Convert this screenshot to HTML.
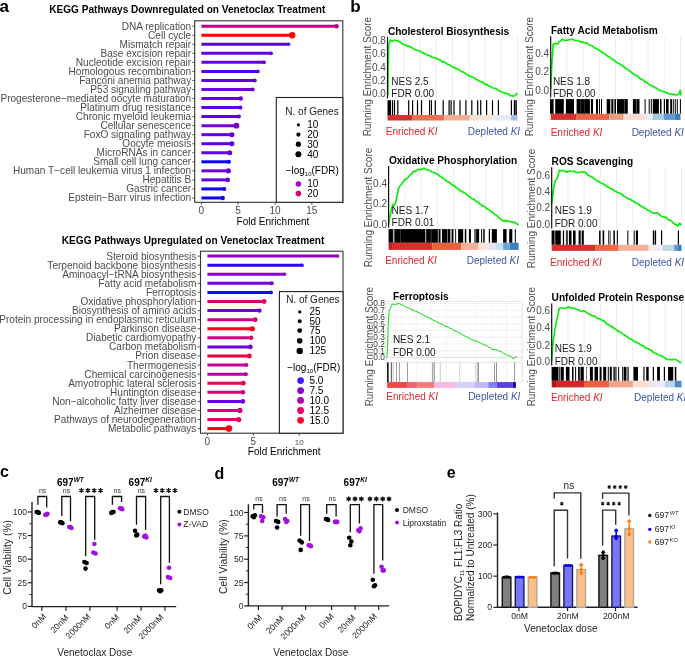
<!DOCTYPE html>
<html><head><meta charset="utf-8"><style>
html,body{margin:0;padding:0;background:#fff;width:685px;height:657px;overflow:hidden}
svg{display:block;will-change:transform}
text{font-family:"Liberation Sans",sans-serif}
</style></head><body>
<svg width="685" height="657" viewBox="0 0 685 657">
<rect x="0" y="0" width="685" height="657" fill="#fff"/>
<text x="-0.50" y="12.00" font-size="17" text-anchor="start" font-weight="bold" font-style="normal" fill="#000">a</text>
<text x="325.40" y="12.60" font-size="10.08" text-anchor="end" font-weight="bold" font-style="normal" fill="#000">KEGG Pathways Downregulated on Venetoclax Treatment</text>
<text x="191.20" y="29.64" font-size="10.08" text-anchor="end" font-weight="normal" font-style="normal" fill="#4d4d4d">DNA replication</text>
<line x1="192.20" y1="26.20" x2="194.70" y2="26.20" stroke="#333" stroke-width="0.8"/>
<line x1="201.40" y1="26.20" x2="336.50" y2="26.20" stroke="#c0008a" stroke-width="3"/>
<circle cx="336.50" cy="26.20" r="2.30" fill="#c0008a"/>
<text x="191.20" y="38.68" font-size="10.08" text-anchor="end" font-weight="normal" font-style="normal" fill="#4d4d4d">Cell cycle</text>
<line x1="192.20" y1="35.24" x2="194.70" y2="35.24" stroke="#333" stroke-width="0.8"/>
<line x1="201.40" y1="35.24" x2="292.20" y2="35.24" stroke="#ff0000" stroke-width="3"/>
<circle cx="292.20" cy="35.24" r="3.20" fill="#ff0000"/>
<text x="191.20" y="47.72" font-size="10.08" text-anchor="end" font-weight="normal" font-style="normal" fill="#4d4d4d">Mismatch repair</text>
<line x1="192.20" y1="44.28" x2="194.70" y2="44.28" stroke="#333" stroke-width="0.8"/>
<line x1="201.40" y1="44.28" x2="288.60" y2="44.28" stroke="#5a00f0" stroke-width="3"/>
<circle cx="288.60" cy="44.28" r="1.70" fill="#5a00f0"/>
<text x="191.20" y="56.76" font-size="10.08" text-anchor="end" font-weight="normal" font-style="normal" fill="#4d4d4d">Base excision repair</text>
<line x1="192.20" y1="53.32" x2="194.70" y2="53.32" stroke="#333" stroke-width="0.8"/>
<line x1="201.40" y1="53.32" x2="271.10" y2="53.32" stroke="#6000ec" stroke-width="3"/>
<circle cx="271.10" cy="53.32" r="1.90" fill="#6000ec"/>
<text x="191.20" y="65.80" font-size="10.08" text-anchor="end" font-weight="normal" font-style="normal" fill="#4d4d4d">Nucleotide excision repair</text>
<line x1="192.20" y1="62.36" x2="194.70" y2="62.36" stroke="#333" stroke-width="0.8"/>
<line x1="201.40" y1="62.36" x2="264.10" y2="62.36" stroke="#6800e4" stroke-width="3"/>
<circle cx="264.10" cy="62.36" r="1.90" fill="#6800e4"/>
<text x="191.20" y="74.84" font-size="10.08" text-anchor="end" font-weight="normal" font-style="normal" fill="#4d4d4d">Homologous recombination</text>
<line x1="192.20" y1="71.40" x2="194.70" y2="71.40" stroke="#333" stroke-width="0.8"/>
<line x1="201.40" y1="71.40" x2="257.80" y2="71.40" stroke="#5200f0" stroke-width="3"/>
<circle cx="257.80" cy="71.40" r="1.90" fill="#5200f0"/>
<text x="191.20" y="83.88" font-size="10.08" text-anchor="end" font-weight="normal" font-style="normal" fill="#4d4d4d">Fanconi anemia pathway</text>
<line x1="192.20" y1="80.44" x2="194.70" y2="80.44" stroke="#333" stroke-width="0.8"/>
<line x1="201.40" y1="80.44" x2="254.70" y2="80.44" stroke="#6000e8" stroke-width="3"/>
<circle cx="254.70" cy="80.44" r="2.00" fill="#6000e8"/>
<text x="191.20" y="92.92" font-size="10.08" text-anchor="end" font-weight="normal" font-style="normal" fill="#4d4d4d">P53 signaling pathway</text>
<line x1="192.20" y1="89.48" x2="194.70" y2="89.48" stroke="#333" stroke-width="0.8"/>
<line x1="201.40" y1="89.48" x2="252.60" y2="89.48" stroke="#6c00e0" stroke-width="3"/>
<circle cx="252.60" cy="89.48" r="2.00" fill="#6c00e0"/>
<text x="191.20" y="101.96" font-size="10.08" text-anchor="end" font-weight="normal" font-style="normal" fill="#4d4d4d">Progesterone−mediated oocyte maturation</text>
<line x1="192.20" y1="98.52" x2="194.70" y2="98.52" stroke="#333" stroke-width="0.8"/>
<line x1="201.40" y1="98.52" x2="240.80" y2="98.52" stroke="#6a00e0" stroke-width="3"/>
<circle cx="240.80" cy="98.52" r="2.20" fill="#6a00e0"/>
<text x="191.20" y="111.00" font-size="10.08" text-anchor="end" font-weight="normal" font-style="normal" fill="#4d4d4d">Platinum drug resistance</text>
<line x1="192.20" y1="107.56" x2="194.70" y2="107.56" stroke="#333" stroke-width="0.8"/>
<line x1="201.40" y1="107.56" x2="240.30" y2="107.56" stroke="#5a00ec" stroke-width="3"/>
<circle cx="240.30" cy="107.56" r="2.10" fill="#5a00ec"/>
<text x="191.20" y="120.04" font-size="10.08" text-anchor="end" font-weight="normal" font-style="normal" fill="#4d4d4d">Chronic myeloid leukemia</text>
<line x1="192.20" y1="116.60" x2="194.70" y2="116.60" stroke="#333" stroke-width="0.8"/>
<line x1="201.40" y1="116.60" x2="238.90" y2="116.60" stroke="#5a00ec" stroke-width="3"/>
<circle cx="238.90" cy="116.60" r="2.00" fill="#5a00ec"/>
<text x="191.20" y="129.08" font-size="10.08" text-anchor="end" font-weight="normal" font-style="normal" fill="#4d4d4d">Cellular senescence</text>
<line x1="192.20" y1="125.64" x2="194.70" y2="125.64" stroke="#333" stroke-width="0.8"/>
<line x1="201.40" y1="125.64" x2="236.40" y2="125.64" stroke="#7800d8" stroke-width="3"/>
<circle cx="236.40" cy="125.64" r="2.90" fill="#7800d8"/>
<text x="191.20" y="138.12" font-size="10.08" text-anchor="end" font-weight="normal" font-style="normal" fill="#4d4d4d">FoxO signaling pathway</text>
<line x1="192.20" y1="134.68" x2="194.70" y2="134.68" stroke="#333" stroke-width="0.8"/>
<line x1="201.40" y1="134.68" x2="231.90" y2="134.68" stroke="#6000e8" stroke-width="3"/>
<circle cx="231.90" cy="134.68" r="2.50" fill="#6000e8"/>
<text x="191.20" y="147.16" font-size="10.08" text-anchor="end" font-weight="normal" font-style="normal" fill="#4d4d4d">Oocyte meiosis</text>
<line x1="192.20" y1="143.72" x2="194.70" y2="143.72" stroke="#333" stroke-width="0.8"/>
<line x1="201.40" y1="143.72" x2="231.90" y2="143.72" stroke="#5c00ec" stroke-width="3"/>
<circle cx="231.90" cy="143.72" r="2.50" fill="#5c00ec"/>
<text x="191.20" y="156.20" font-size="10.08" text-anchor="end" font-weight="normal" font-style="normal" fill="#4d4d4d">MicroRNAs in cancer</text>
<line x1="192.20" y1="152.76" x2="194.70" y2="152.76" stroke="#333" stroke-width="0.8"/>
<line x1="201.40" y1="152.76" x2="229.70" y2="152.76" stroke="#6400e4" stroke-width="3"/>
<circle cx="229.70" cy="152.76" r="2.50" fill="#6400e4"/>
<text x="191.20" y="165.24" font-size="10.08" text-anchor="end" font-weight="normal" font-style="normal" fill="#4d4d4d">Small cell lung cancer</text>
<line x1="192.20" y1="161.80" x2="194.70" y2="161.80" stroke="#333" stroke-width="0.8"/>
<line x1="201.40" y1="161.80" x2="228.90" y2="161.80" stroke="#0a00ff" stroke-width="3"/>
<circle cx="228.90" cy="161.80" r="2.10" fill="#0a00ff"/>
<text x="191.20" y="174.28" font-size="10.08" text-anchor="end" font-weight="normal" font-style="normal" fill="#4d4d4d">Human T−cell leukemia virus 1 infection</text>
<line x1="192.20" y1="170.84" x2="194.70" y2="170.84" stroke="#333" stroke-width="0.8"/>
<line x1="201.40" y1="170.84" x2="228.40" y2="170.84" stroke="#7000dc" stroke-width="3"/>
<circle cx="228.40" cy="170.84" r="2.60" fill="#7000dc"/>
<text x="191.20" y="183.32" font-size="10.08" text-anchor="end" font-weight="normal" font-style="normal" fill="#4d4d4d">Hepatitis B</text>
<line x1="192.20" y1="179.88" x2="194.70" y2="179.88" stroke="#333" stroke-width="0.8"/>
<line x1="201.40" y1="179.88" x2="227.70" y2="179.88" stroke="#6000e8" stroke-width="3"/>
<circle cx="227.70" cy="179.88" r="2.30" fill="#6000e8"/>
<text x="191.20" y="192.36" font-size="10.08" text-anchor="end" font-weight="normal" font-style="normal" fill="#4d4d4d">Gastric cancer</text>
<line x1="192.20" y1="188.92" x2="194.70" y2="188.92" stroke="#333" stroke-width="0.8"/>
<line x1="201.40" y1="188.92" x2="224.30" y2="188.92" stroke="#1000fc" stroke-width="3"/>
<circle cx="224.30" cy="188.92" r="2.00" fill="#1000fc"/>
<text x="191.20" y="201.40" font-size="10.08" text-anchor="end" font-weight="normal" font-style="normal" fill="#4d4d4d">Epstein−Barr virus infection</text>
<line x1="192.20" y1="197.96" x2="194.70" y2="197.96" stroke="#333" stroke-width="0.8"/>
<line x1="201.40" y1="197.96" x2="222.70" y2="197.96" stroke="#1000fc" stroke-width="3"/>
<circle cx="222.70" cy="197.96" r="2.20" fill="#1000fc"/>
<rect x="194.70" y="20.80" width="148.10" height="181.50" fill="none" stroke="#333" stroke-width="1.1"/>
<line x1="201.40" y1="202.30" x2="201.40" y2="204.80" stroke="#333" stroke-width="0.8"/>
<text x="201.40" y="213.70" font-size="10" text-anchor="middle" font-weight="normal" font-style="normal" fill="#4d4d4d">0</text>
<line x1="238.00" y1="202.30" x2="238.00" y2="204.80" stroke="#333" stroke-width="0.8"/>
<text x="238.00" y="213.70" font-size="10" text-anchor="middle" font-weight="normal" font-style="normal" fill="#4d4d4d">5</text>
<line x1="275.00" y1="202.30" x2="275.00" y2="204.80" stroke="#333" stroke-width="0.8"/>
<text x="275.00" y="213.70" font-size="10" text-anchor="middle" font-weight="normal" font-style="normal" fill="#4d4d4d">10</text>
<line x1="311.80" y1="202.30" x2="311.80" y2="204.80" stroke="#333" stroke-width="0.8"/>
<text x="311.80" y="213.70" font-size="10" text-anchor="middle" font-weight="normal" font-style="normal" fill="#4d4d4d">15</text>
<text x="273.00" y="225.20" font-size="10" text-anchor="middle" font-weight="normal" font-style="normal" fill="#000">Fold Enrichment</text>
<rect x="276.30" y="97.50" width="66.50" height="104.80" fill="white" stroke="#222" stroke-width="1.1"/>
<text x="312.00" y="115.00" font-size="10" text-anchor="middle" font-weight="normal" font-style="normal" fill="#1a1a1a">N. of Genes</text>
<circle cx="298.40" cy="124.80" r="1.60" fill="#000"/>
<text x="307.30" y="128.24" font-size="10" text-anchor="start" font-weight="normal" font-style="normal" fill="#000">10</text>
<circle cx="298.40" cy="134.60" r="2.10" fill="#000"/>
<text x="307.30" y="138.04" font-size="10" text-anchor="start" font-weight="normal" font-style="normal" fill="#000">20</text>
<circle cx="298.40" cy="144.20" r="2.60" fill="#000"/>
<text x="307.30" y="147.64" font-size="10" text-anchor="start" font-weight="normal" font-style="normal" fill="#000">30</text>
<circle cx="298.40" cy="154.20" r="3.00" fill="#000"/>
<text x="307.30" y="157.64" font-size="10" text-anchor="start" font-weight="normal" font-style="normal" fill="#000">40</text>
<text x="312.20" y="174.00" font-size="10" text-anchor="middle" font-weight="normal" font-style="normal" fill="#000">−log<tspan font-size="6" dy="2">10</tspan><tspan dy="-2">(FDR)</tspan></text>
<circle cx="298.40" cy="184.00" r="2.80" fill="#a000d0"/>
<text x="307.30" y="187.40" font-size="10" text-anchor="start" font-weight="normal" font-style="normal" fill="#000">10</text>
<circle cx="298.40" cy="193.60" r="2.80" fill="#e0006f"/>
<text x="307.30" y="197.00" font-size="10" text-anchor="start" font-weight="normal" font-style="normal" fill="#000">20</text>
<text x="324.30" y="244.20" font-size="10.1" text-anchor="end" font-weight="bold" font-style="normal" fill="#000">KEGG Pathways Upregulated on Venetoclax Treatment</text>
<text x="196.40" y="259.54" font-size="10.08" text-anchor="end" font-weight="normal" font-style="normal" fill="#4d4d4d">Steroid biosynthesis</text>
<line x1="197.60" y1="256.10" x2="200.50" y2="256.10" stroke="#333" stroke-width="0.8"/>
<line x1="207.40" y1="256.10" x2="337.70" y2="256.10" stroke="#9a00c0" stroke-width="3"/>
<circle cx="337.70" cy="256.10" r="1.70" fill="#9a00c0"/>
<text x="196.40" y="268.62" font-size="10.08" text-anchor="end" font-weight="normal" font-style="normal" fill="#4d4d4d">Terpenoid backbone biosynthesis</text>
<line x1="197.60" y1="265.18" x2="200.50" y2="265.18" stroke="#333" stroke-width="0.8"/>
<line x1="207.40" y1="265.18" x2="302.10" y2="265.18" stroke="#2a00ff" stroke-width="3"/>
<circle cx="302.10" cy="265.18" r="1.70" fill="#2a00ff"/>
<text x="196.40" y="277.70" font-size="10.08" text-anchor="end" font-weight="normal" font-style="normal" fill="#4d4d4d">Aminoacyl−tRNA biosynthesis</text>
<line x1="197.60" y1="274.26" x2="200.50" y2="274.26" stroke="#333" stroke-width="0.8"/>
<line x1="207.40" y1="274.26" x2="284.60" y2="274.26" stroke="#9000c8" stroke-width="3"/>
<circle cx="284.60" cy="274.26" r="1.70" fill="#9000c8"/>
<text x="196.40" y="286.78" font-size="10.08" text-anchor="end" font-weight="normal" font-style="normal" fill="#4d4d4d">Fatty acid metabolism</text>
<line x1="197.60" y1="283.34" x2="200.50" y2="283.34" stroke="#333" stroke-width="0.8"/>
<line x1="207.40" y1="283.34" x2="271.80" y2="283.34" stroke="#7800d8" stroke-width="3"/>
<circle cx="271.80" cy="283.34" r="2.00" fill="#7800d8"/>
<text x="196.40" y="295.86" font-size="10.08" text-anchor="end" font-weight="normal" font-style="normal" fill="#4d4d4d">Ferroptosis</text>
<line x1="197.60" y1="292.42" x2="200.50" y2="292.42" stroke="#333" stroke-width="0.8"/>
<line x1="207.40" y1="292.42" x2="271.10" y2="292.42" stroke="#0a10ff" stroke-width="3"/>
<circle cx="271.10" cy="292.42" r="1.90" fill="#0a10ff"/>
<text x="196.40" y="304.94" font-size="10.08" text-anchor="end" font-weight="normal" font-style="normal" fill="#4d4d4d">Oxidative phosphorylation</text>
<line x1="197.60" y1="301.50" x2="200.50" y2="301.50" stroke="#333" stroke-width="0.8"/>
<line x1="207.40" y1="301.50" x2="264.10" y2="301.50" stroke="#e0006a" stroke-width="3"/>
<circle cx="264.10" cy="301.50" r="2.40" fill="#e0006a"/>
<text x="196.40" y="314.02" font-size="10.08" text-anchor="end" font-weight="normal" font-style="normal" fill="#4d4d4d">Biosynthesis of amino acids</text>
<line x1="197.60" y1="310.58" x2="200.50" y2="310.58" stroke="#333" stroke-width="0.8"/>
<line x1="207.40" y1="310.58" x2="259.50" y2="310.58" stroke="#6a00e0" stroke-width="3"/>
<circle cx="259.50" cy="310.58" r="2.20" fill="#6a00e0"/>
<text x="196.40" y="323.10" font-size="10.08" text-anchor="end" font-weight="normal" font-style="normal" fill="#4d4d4d">Protein processing in endoplasmic reticulum</text>
<line x1="197.60" y1="319.66" x2="200.50" y2="319.66" stroke="#333" stroke-width="0.8"/>
<line x1="207.40" y1="319.66" x2="255.20" y2="319.66" stroke="#d40080" stroke-width="3"/>
<circle cx="255.20" cy="319.66" r="2.40" fill="#d40080"/>
<text x="196.40" y="332.18" font-size="10.08" text-anchor="end" font-weight="normal" font-style="normal" fill="#4d4d4d">Parkinson disease</text>
<line x1="197.60" y1="328.74" x2="200.50" y2="328.74" stroke="#333" stroke-width="0.8"/>
<line x1="207.40" y1="328.74" x2="252.30" y2="328.74" stroke="#ff0018" stroke-width="3"/>
<circle cx="252.30" cy="328.74" r="2.60" fill="#ff0018"/>
<text x="196.40" y="341.26" font-size="10.08" text-anchor="end" font-weight="normal" font-style="normal" fill="#4d4d4d">Diabetic cardiomyopathy</text>
<line x1="197.60" y1="337.82" x2="200.50" y2="337.82" stroke="#333" stroke-width="0.8"/>
<line x1="207.40" y1="337.82" x2="251.10" y2="337.82" stroke="#d4007e" stroke-width="3"/>
<circle cx="251.10" cy="337.82" r="2.30" fill="#d4007e"/>
<text x="196.40" y="350.34" font-size="10.08" text-anchor="end" font-weight="normal" font-style="normal" fill="#4d4d4d">Carbon metabolism</text>
<line x1="197.60" y1="346.90" x2="200.50" y2="346.90" stroke="#333" stroke-width="0.8"/>
<line x1="207.40" y1="346.90" x2="250.40" y2="346.90" stroke="#7000dc" stroke-width="3"/>
<circle cx="250.40" cy="346.90" r="2.30" fill="#7000dc"/>
<text x="196.40" y="359.42" font-size="10.08" text-anchor="end" font-weight="normal" font-style="normal" fill="#4d4d4d">Prion disease</text>
<line x1="197.60" y1="355.98" x2="200.50" y2="355.98" stroke="#333" stroke-width="0.8"/>
<line x1="207.40" y1="355.98" x2="249.40" y2="355.98" stroke="#f00040" stroke-width="3"/>
<circle cx="249.40" cy="355.98" r="2.40" fill="#f00040"/>
<text x="196.40" y="368.50" font-size="10.08" text-anchor="end" font-weight="normal" font-style="normal" fill="#4d4d4d">Thermogenesis</text>
<line x1="197.60" y1="365.06" x2="200.50" y2="365.06" stroke="#333" stroke-width="0.8"/>
<line x1="207.40" y1="365.06" x2="246.40" y2="365.06" stroke="#c8009a" stroke-width="3"/>
<circle cx="246.40" cy="365.06" r="2.00" fill="#c8009a"/>
<text x="196.40" y="377.58" font-size="10.08" text-anchor="end" font-weight="normal" font-style="normal" fill="#4d4d4d">Chemical carcinogenesis</text>
<line x1="197.60" y1="374.14" x2="200.50" y2="374.14" stroke="#333" stroke-width="0.8"/>
<line x1="207.40" y1="374.14" x2="245.90" y2="374.14" stroke="#b800a8" stroke-width="3"/>
<circle cx="245.90" cy="374.14" r="2.00" fill="#b800a8"/>
<text x="196.40" y="386.66" font-size="10.08" text-anchor="end" font-weight="normal" font-style="normal" fill="#4d4d4d">Amyotrophic lateral sclerosis</text>
<line x1="197.60" y1="383.22" x2="200.50" y2="383.22" stroke="#333" stroke-width="0.8"/>
<line x1="207.40" y1="383.22" x2="243.40" y2="383.22" stroke="#ec0050" stroke-width="3"/>
<circle cx="243.40" cy="383.22" r="2.40" fill="#ec0050"/>
<text x="196.40" y="395.74" font-size="10.08" text-anchor="end" font-weight="normal" font-style="normal" fill="#4d4d4d">Huntington disease</text>
<line x1="197.60" y1="392.30" x2="200.50" y2="392.30" stroke="#333" stroke-width="0.8"/>
<line x1="207.40" y1="392.30" x2="242.90" y2="392.30" stroke="#d8007a" stroke-width="3"/>
<circle cx="242.90" cy="392.30" r="2.30" fill="#d8007a"/>
<text x="196.40" y="404.82" font-size="10.08" text-anchor="end" font-weight="normal" font-style="normal" fill="#4d4d4d">Non−alcoholic fatty liver disease</text>
<line x1="197.60" y1="401.38" x2="200.50" y2="401.38" stroke="#333" stroke-width="0.8"/>
<line x1="207.40" y1="401.38" x2="242.90" y2="401.38" stroke="#6a00e4" stroke-width="3"/>
<circle cx="242.90" cy="401.38" r="2.30" fill="#6a00e4"/>
<text x="196.40" y="413.90" font-size="10.08" text-anchor="end" font-weight="normal" font-style="normal" fill="#4d4d4d">Alzheimer disease</text>
<line x1="197.60" y1="410.46" x2="200.50" y2="410.46" stroke="#333" stroke-width="0.8"/>
<line x1="207.40" y1="410.46" x2="239.90" y2="410.46" stroke="#d8007a" stroke-width="3"/>
<circle cx="239.90" cy="410.46" r="2.60" fill="#d8007a"/>
<text x="196.40" y="422.98" font-size="10.08" text-anchor="end" font-weight="normal" font-style="normal" fill="#4d4d4d">Pathways of neurodegeneration</text>
<line x1="197.60" y1="419.54" x2="200.50" y2="419.54" stroke="#333" stroke-width="0.8"/>
<line x1="207.40" y1="419.54" x2="238.70" y2="419.54" stroke="#e40062" stroke-width="3"/>
<circle cx="238.70" cy="419.54" r="2.60" fill="#e40062"/>
<text x="196.40" y="432.06" font-size="10.08" text-anchor="end" font-weight="normal" font-style="normal" fill="#4d4d4d">Metabolic pathways</text>
<line x1="197.60" y1="428.62" x2="200.50" y2="428.62" stroke="#333" stroke-width="0.8"/>
<line x1="207.40" y1="428.62" x2="228.90" y2="428.62" stroke="#ff0010" stroke-width="3"/>
<circle cx="228.90" cy="428.62" r="3.30" fill="#ff0010"/>
<rect x="200.50" y="251.20" width="142.50" height="182.00" fill="none" stroke="#333" stroke-width="1.1"/>
<line x1="207.40" y1="433.20" x2="207.40" y2="435.70" stroke="#333" stroke-width="0.8"/>
<text x="207.40" y="444.50" font-size="10" text-anchor="middle" font-weight="normal" font-style="normal" fill="#4d4d4d">0</text>
<line x1="253.40" y1="433.20" x2="253.40" y2="435.70" stroke="#333" stroke-width="0.8"/>
<text x="253.40" y="444.50" font-size="10" text-anchor="middle" font-weight="normal" font-style="normal" fill="#4d4d4d">5</text>
<line x1="299.30" y1="433.20" x2="299.30" y2="435.70" stroke="#333" stroke-width="0.8"/>
<text x="299.30" y="444.50" font-size="8" text-anchor="middle" font-weight="normal" font-style="normal" fill="#4d4d4d">10</text>
<text x="284.20" y="454.50" font-size="10" text-anchor="middle" font-weight="normal" font-style="normal" fill="#000">Fold Enrichment</text>
<rect x="279.40" y="291.60" width="63.60" height="141.60" fill="white" stroke="#222" stroke-width="1.1"/>
<text x="312.90" y="302.70" font-size="10" text-anchor="middle" font-weight="normal" font-style="normal" fill="#1a1a1a">N. of Genes</text>
<circle cx="299.70" cy="311.90" r="1.60" fill="#000"/>
<text x="309.50" y="315.34" font-size="10" text-anchor="start" font-weight="normal" font-style="normal" fill="#000">25</text>
<circle cx="299.70" cy="321.20" r="2.00" fill="#000"/>
<text x="309.50" y="324.64" font-size="10" text-anchor="start" font-weight="normal" font-style="normal" fill="#000">50</text>
<circle cx="299.70" cy="330.60" r="2.40" fill="#000"/>
<text x="309.50" y="334.04" font-size="10" text-anchor="start" font-weight="normal" font-style="normal" fill="#000">75</text>
<circle cx="299.70" cy="340.80" r="2.80" fill="#000"/>
<text x="309.50" y="344.24" font-size="10" text-anchor="start" font-weight="normal" font-style="normal" fill="#000">100</text>
<circle cx="299.70" cy="350.90" r="3.20" fill="#000"/>
<text x="309.50" y="354.34" font-size="10" text-anchor="start" font-weight="normal" font-style="normal" fill="#000">125</text>
<text x="313.80" y="370.60" font-size="10" text-anchor="middle" font-weight="normal" font-style="normal" fill="#000">−log<tspan font-size="6" dy="2">10</tspan><tspan dy="-2">(FDR)</tspan></text>
<circle cx="300.60" cy="380.60" r="3.40" fill="#3b1cff"/>
<text x="309.50" y="384.04" font-size="10" text-anchor="start" font-weight="normal" font-style="normal" fill="#000">5.0</text>
<circle cx="300.60" cy="390.60" r="3.40" fill="#8a00d0"/>
<text x="309.50" y="394.04" font-size="10" text-anchor="start" font-weight="normal" font-style="normal" fill="#000">7.5</text>
<circle cx="300.60" cy="400.40" r="3.40" fill="#b800a8"/>
<text x="309.50" y="403.84" font-size="10" text-anchor="start" font-weight="normal" font-style="normal" fill="#000">10.0</text>
<circle cx="300.60" cy="410.50" r="3.40" fill="#e0006a"/>
<text x="309.50" y="413.94" font-size="10" text-anchor="start" font-weight="normal" font-style="normal" fill="#000">12.5</text>
<circle cx="300.60" cy="420.30" r="3.40" fill="#ff0033"/>
<text x="309.50" y="423.74" font-size="10" text-anchor="start" font-weight="normal" font-style="normal" fill="#000">15.0</text>
<text x="350.30" y="11.50" font-size="17" text-anchor="start" font-weight="bold" font-style="normal" fill="#000">b</text>
<text x="387.90" y="34.90" font-size="10.12" text-anchor="start" font-weight="bold" font-style="normal" fill="#000">Cholesterol Biosynthesis</text>
<text x="370.60" y="76.60" font-size="10" text-anchor="middle" font-weight="normal" font-style="normal" fill="#4d4d4d" transform="rotate(-90 370.60 76.60)">Running Enrichment Score</text>
<line x1="403.75" y1="36.80" x2="403.75" y2="98.30" stroke="#e8e8e8" stroke-width="0.8"/>
<line x1="420.00" y1="36.80" x2="420.00" y2="98.30" stroke="#e8e8e8" stroke-width="0.8"/>
<line x1="436.25" y1="36.80" x2="436.25" y2="98.30" stroke="#e8e8e8" stroke-width="0.8"/>
<line x1="452.50" y1="36.80" x2="452.50" y2="98.30" stroke="#e8e8e8" stroke-width="0.8"/>
<line x1="468.75" y1="36.80" x2="468.75" y2="98.30" stroke="#e8e8e8" stroke-width="0.8"/>
<line x1="485.00" y1="36.80" x2="485.00" y2="98.30" stroke="#e8e8e8" stroke-width="0.8"/>
<line x1="501.25" y1="36.80" x2="501.25" y2="98.30" stroke="#e8e8e8" stroke-width="0.8"/>
<line x1="517.50" y1="36.80" x2="517.50" y2="98.30" stroke="#e8e8e8" stroke-width="0.8"/>
<text x="385.90" y="44.34" font-size="10" text-anchor="end" font-weight="normal" font-style="normal" fill="#4d4d4d">0.8</text>
<text x="385.90" y="57.44" font-size="10" text-anchor="end" font-weight="normal" font-style="normal" fill="#4d4d4d">0.6</text>
<text x="385.90" y="70.54" font-size="10" text-anchor="end" font-weight="normal" font-style="normal" fill="#4d4d4d">0.4</text>
<text x="385.90" y="83.74" font-size="10" text-anchor="end" font-weight="normal" font-style="normal" fill="#4d4d4d">0.2</text>
<text x="385.90" y="96.84" font-size="10" text-anchor="end" font-weight="normal" font-style="normal" fill="#4d4d4d">0.0</text>
<polyline points="387.90,95.00 387.92,93.74 387.94,92.19 387.95,90.19 387.97,88.89 387.99,87.43 388.01,86.67 388.02,84.48 388.04,83.23 388.06,82.03 388.08,80.34 388.09,79.03 388.11,77.50 388.13,76.26 388.15,74.46 388.16,72.49 388.18,71.65 388.20,70.00 388.22,68.38 388.25,67.44 388.27,65.60 388.30,63.64 388.32,62.77 388.35,60.81 388.38,59.82 388.40,57.57 388.43,56.81 388.45,54.64 388.48,53.85 388.50,52.00 388.56,50.70 388.62,48.95 388.68,47.98 388.74,46.39 388.80,44.50 389.33,43.08 389.87,41.86 390.40,40.10 392.20,41.30 393.80,40.30 395.00,40.00 396.30,40.91 397.61,40.72 398.91,41.46 400.22,42.07 401.52,43.25 402.83,43.97 404.13,44.73 405.43,44.94 406.74,45.86 408.04,45.66 409.35,46.81 410.65,46.90 411.96,47.64 413.26,48.48 414.57,49.19 415.87,50.04 417.17,50.38 418.48,50.59 419.78,50.99 421.09,52.21 422.39,52.64 423.70,53.00 425.00,53.90 426.33,54.48 427.67,55.14 429.00,55.68 430.33,55.85 431.67,57.11 433.00,57.48 434.33,57.67 435.67,58.04 437.00,58.93 438.33,59.35 439.67,59.87 441.00,60.53 442.33,61.80 443.67,61.88 445.00,62.60 446.29,63.28 447.58,64.31 448.87,64.49 450.16,65.42 451.44,66.40 452.73,66.85 454.02,67.44 455.31,68.49 456.60,68.66 457.89,69.16 459.18,70.01 460.47,71.22 461.76,71.53 463.04,71.93 464.33,72.56 465.62,73.61 466.91,74.49 468.20,75.00 469.53,76.12 470.87,76.34 472.20,77.04 473.53,77.48 474.87,78.27 476.20,79.66 477.53,79.73 478.87,80.80 480.20,81.64 481.53,81.67 482.87,82.51 484.20,83.50 485.54,84.63 486.88,84.35 488.23,85.70 489.57,86.23 490.91,86.70 492.25,87.68 493.59,88.23 494.93,88.37 496.27,88.78 497.62,89.99 498.96,90.53 500.30,91.20 501.70,91.74 503.10,92.59 504.50,93.18 505.90,93.29 507.30,93.75 508.70,94.38 510.10,95.66 511.50,95.63 512.90,96.30 515.00,95.60 516.70,93.50 517.50,94.00" fill="none" stroke="#0aee0a" stroke-width="1.7" stroke-linejoin="round"/>
<line x1="387.50" y1="36.80" x2="387.50" y2="98.30" stroke="#111" stroke-width="1.2"/>
<text x="391.30" y="85.04" font-size="10" text-anchor="start" font-weight="normal" font-style="normal" fill="#1a1a1a">NES 2.5</text>
<text x="391.30" y="97.34" font-size="10" text-anchor="start" font-weight="normal" font-style="normal" fill="#1a1a1a">FDR 0.00</text>
<rect x="387.50" y="100.20" width="3.50" height="14.80" fill="#000" stroke="none" stroke-width="1"/>
<rect x="391.90" y="100.20" width="1.20" height="14.80" fill="#000" stroke="none" stroke-width="1"/>
<rect x="393.90" y="100.20" width="1.20" height="14.80" fill="#000" stroke="none" stroke-width="1"/>
<rect x="397.20" y="100.20" width="1.20" height="14.80" fill="#000" stroke="none" stroke-width="1"/>
<rect x="408.10" y="100.20" width="1.20" height="14.80" fill="#000" stroke="none" stroke-width="1"/>
<rect x="412.00" y="100.20" width="1.20" height="14.80" fill="#000" stroke="none" stroke-width="1"/>
<rect x="416.90" y="100.20" width="1.20" height="14.80" fill="#000" stroke="none" stroke-width="1"/>
<rect x="420.90" y="100.20" width="1.20" height="14.80" fill="#000" stroke="none" stroke-width="1"/>
<rect x="429.00" y="100.20" width="1.20" height="14.80" fill="#000" stroke="none" stroke-width="1"/>
<rect x="431.00" y="100.20" width="1.00" height="14.80" fill="#000" stroke="none" stroke-width="1"/>
<rect x="434.70" y="100.20" width="1.20" height="14.80" fill="#000" stroke="none" stroke-width="1"/>
<rect x="442.60" y="100.20" width="1.20" height="14.80" fill="#000" stroke="none" stroke-width="1"/>
<rect x="448.50" y="100.20" width="1.20" height="14.80" fill="#000" stroke="none" stroke-width="1"/>
<rect x="450.50" y="100.20" width="1.20" height="14.80" fill="#000" stroke="none" stroke-width="1"/>
<rect x="453.40" y="100.20" width="1.20" height="14.80" fill="#000" stroke="none" stroke-width="1"/>
<rect x="459.40" y="100.20" width="1.20" height="14.80" fill="#000" stroke="none" stroke-width="1"/>
<rect x="465.30" y="100.20" width="1.20" height="14.80" fill="#000" stroke="none" stroke-width="1"/>
<rect x="471.20" y="100.20" width="1.20" height="14.80" fill="#000" stroke="none" stroke-width="1"/>
<rect x="477.10" y="100.20" width="1.20" height="14.80" fill="#000" stroke="none" stroke-width="1"/>
<rect x="480.10" y="100.20" width="1.20" height="14.80" fill="#000" stroke="none" stroke-width="1"/>
<rect x="486.00" y="100.20" width="1.20" height="14.80" fill="#000" stroke="none" stroke-width="1"/>
<rect x="491.90" y="100.20" width="1.20" height="14.80" fill="#000" stroke="none" stroke-width="1"/>
<rect x="497.80" y="100.20" width="1.20" height="14.80" fill="#000" stroke="none" stroke-width="1"/>
<rect x="510.80" y="100.20" width="1.20" height="14.80" fill="#000" stroke="none" stroke-width="1"/>
<rect x="513.80" y="100.20" width="1.70" height="14.80" fill="#000" stroke="none" stroke-width="1"/>
<rect x="515.60" y="100.20" width="1.20" height="14.80" fill="#000" stroke="none" stroke-width="1"/>
<rect x="387.50" y="115.00" width="25.10" height="5.50" fill="#d03234" stroke="none" stroke-width="1"/>
<rect x="412.60" y="115.00" width="31.60" height="5.50" fill="#f06e52" stroke="none" stroke-width="1"/>
<rect x="444.20" y="115.00" width="25.60" height="5.50" fill="#f5ab94" stroke="none" stroke-width="1"/>
<rect x="469.80" y="115.00" width="22.70" height="5.50" fill="#fbe2d6" stroke="none" stroke-width="1"/>
<rect x="492.50" y="115.00" width="18.70" height="5.50" fill="#e6edf7" stroke="none" stroke-width="1"/>
<rect x="511.20" y="115.00" width="6.30" height="5.50" fill="#9fbfda" stroke="none" stroke-width="1"/>
<text x="385.80" y="134.90" font-size="10" text-anchor="start" font-weight="normal" font-style="normal" fill="#e4222a">Enriched <tspan font-style="italic">KI</tspan></text>
<text x="520.10" y="134.90" font-size="10" text-anchor="end" font-weight="normal" font-style="normal" fill="#3a55a8">Depleted <tspan font-style="italic">KI</tspan></text>
<text x="550.90" y="33.60" font-size="10.12" text-anchor="start" font-weight="bold" font-style="normal" fill="#000">Fatty Acid Metabolism</text>
<text x="533.40" y="76.60" font-size="10" text-anchor="middle" font-weight="normal" font-style="normal" fill="#4d4d4d" transform="rotate(-90 533.40 76.60)">Running Enrichment Score</text>
<line x1="566.93" y1="36.30" x2="566.93" y2="97.60" stroke="#e8e8e8" stroke-width="0.8"/>
<line x1="583.15" y1="36.30" x2="583.15" y2="97.60" stroke="#e8e8e8" stroke-width="0.8"/>
<line x1="599.38" y1="36.30" x2="599.38" y2="97.60" stroke="#e8e8e8" stroke-width="0.8"/>
<line x1="615.60" y1="36.30" x2="615.60" y2="97.60" stroke="#e8e8e8" stroke-width="0.8"/>
<line x1="631.83" y1="36.30" x2="631.83" y2="97.60" stroke="#e8e8e8" stroke-width="0.8"/>
<line x1="648.05" y1="36.30" x2="648.05" y2="97.60" stroke="#e8e8e8" stroke-width="0.8"/>
<line x1="664.27" y1="36.30" x2="664.27" y2="97.60" stroke="#e8e8e8" stroke-width="0.8"/>
<line x1="680.50" y1="36.30" x2="680.50" y2="97.60" stroke="#e8e8e8" stroke-width="0.8"/>
<text x="549.10" y="56.94" font-size="10" text-anchor="end" font-weight="normal" font-style="normal" fill="#4d4d4d">0.4</text>
<text x="549.10" y="75.34" font-size="10" text-anchor="end" font-weight="normal" font-style="normal" fill="#4d4d4d">0.2</text>
<text x="549.10" y="93.74" font-size="10" text-anchor="end" font-weight="normal" font-style="normal" fill="#4d4d4d">0.0</text>
<polyline points="550.70,89.30 550.76,88.16 550.82,86.80 550.88,84.45 550.95,83.23 551.01,81.43 551.07,80.11 551.13,78.79 551.19,77.68 551.25,76.03 551.32,74.12 551.38,72.72 551.44,71.58 551.50,70.00 551.59,68.89 551.67,67.05 551.76,66.08 551.85,64.43 551.94,62.74 552.03,61.12 552.11,60.19 552.20,58.60 552.30,57.21 552.40,55.35 552.50,54.78 552.60,52.44 552.70,51.88 552.80,50.43 552.90,48.74 553.00,47.04 553.10,45.34 553.20,44.30 555.20,43.30 557.30,44.30 558.15,43.26 559.00,42.00 560.13,41.33 561.27,40.42 562.40,39.20 563.70,39.95 565.00,40.50 567.50,40.20 570.00,39.50 572.60,39.20 575.00,40.50 577.70,40.60 579.16,41.15 580.61,41.86 582.07,41.85 583.53,42.33 584.99,43.00 586.44,43.02 587.90,43.90 589.17,44.75 590.45,45.40 591.73,45.50 593.00,46.47 594.27,47.74 595.55,48.08 596.83,49.21 598.10,49.40 599.27,50.50 600.44,51.04 601.61,52.02 602.79,52.93 603.96,52.99 605.13,54.23 606.30,55.24 607.47,56.05 608.64,56.74 609.81,57.33 610.99,58.08 612.16,59.22 613.33,59.47 614.50,60.70 615.66,61.76 616.83,62.55 617.99,63.16 619.16,63.56 620.32,64.78 621.49,65.12 622.65,65.94 623.81,66.79 624.98,67.72 626.14,69.00 627.31,69.13 628.47,70.01 629.64,71.11 630.80,71.90 631.97,72.84 633.14,73.92 634.31,74.37 635.49,75.53 636.66,75.52 637.83,76.30 639.00,77.82 640.17,78.57 641.34,79.47 642.51,79.60 643.69,80.50 644.86,81.48 646.03,81.90 647.20,83.10 648.42,83.72 649.64,84.99 650.86,85.41 652.08,85.75 653.30,86.61 654.52,87.54 655.74,87.70 656.96,88.92 658.18,89.19 659.40,90.30 660.83,90.44 662.27,91.35 663.70,91.49 665.13,91.92 666.57,93.10 668.00,93.30 669.56,94.00 671.12,93.81 672.68,94.31 674.24,94.28 675.80,95.00 677.35,94.74 678.90,93.80 679.60,92.46 680.30,90.30 680.50,92.06 680.70,93.28 680.90,95.40" fill="none" stroke="#0aee0a" stroke-width="1.7" stroke-linejoin="round"/>
<line x1="550.70" y1="36.30" x2="550.70" y2="97.60" stroke="#111" stroke-width="1.2"/>
<text x="552.90" y="84.74" font-size="10" text-anchor="start" font-weight="normal" font-style="normal" fill="#1a1a1a">NES 1.8</text>
<text x="552.90" y="97.04" font-size="10" text-anchor="start" font-weight="normal" font-style="normal" fill="#1a1a1a">FDR 0.00</text>
<rect x="550.00" y="99.10" width="3.60" height="14.70" fill="#000" stroke="none" stroke-width="1"/>
<rect x="555.20" y="99.10" width="8.60" height="14.70" fill="#000" stroke="none" stroke-width="1"/>
<rect x="565.90" y="99.10" width="8.10" height="14.70" fill="#000" stroke="none" stroke-width="1"/>
<rect x="576.60" y="99.10" width="13.30" height="14.70" fill="#000" stroke="none" stroke-width="1"/>
<rect x="590.90" y="99.10" width="2.10" height="14.70" fill="#000" stroke="none" stroke-width="1"/>
<rect x="596.00" y="99.10" width="2.00" height="14.70" fill="#000" stroke="none" stroke-width="1"/>
<rect x="599.00" y="99.10" width="1.00" height="14.70" fill="#000" stroke="none" stroke-width="1"/>
<rect x="601.00" y="99.10" width="1.00" height="14.70" fill="#000" stroke="none" stroke-width="1"/>
<rect x="606.70" y="99.10" width="3.60" height="14.70" fill="#000" stroke="none" stroke-width="1"/>
<rect x="611.30" y="99.10" width="2.10" height="14.70" fill="#000" stroke="none" stroke-width="1"/>
<rect x="614.40" y="99.10" width="1.60" height="14.70" fill="#000" stroke="none" stroke-width="1"/>
<rect x="617.00" y="99.10" width="10.80" height="14.70" fill="#000" stroke="none" stroke-width="1"/>
<rect x="632.90" y="99.10" width="6.60" height="14.70" fill="#000" stroke="none" stroke-width="1"/>
<rect x="644.60" y="99.10" width="1.00" height="14.70" fill="#000" stroke="none" stroke-width="1"/>
<rect x="648.70" y="99.10" width="1.00" height="14.70" fill="#000" stroke="none" stroke-width="1"/>
<rect x="650.80" y="99.10" width="1.00" height="14.70" fill="#000" stroke="none" stroke-width="1"/>
<rect x="652.80" y="99.10" width="6.10" height="14.70" fill="#000" stroke="none" stroke-width="1"/>
<rect x="660.00" y="99.10" width="1.50" height="14.70" fill="#000" stroke="none" stroke-width="1"/>
<rect x="663.80" y="99.10" width="1.20" height="14.70" fill="#000" stroke="none" stroke-width="1"/>
<rect x="666.00" y="99.10" width="2.60" height="14.70" fill="#000" stroke="none" stroke-width="1"/>
<rect x="670.20" y="99.10" width="2.00" height="14.70" fill="#000" stroke="none" stroke-width="1"/>
<rect x="673.20" y="99.10" width="0.80" height="14.70" fill="#000" stroke="none" stroke-width="1"/>
<rect x="674.80" y="99.10" width="1.00" height="14.70" fill="#000" stroke="none" stroke-width="1"/>
<rect x="676.80" y="99.10" width="1.00" height="14.70" fill="#000" stroke="none" stroke-width="1"/>
<rect x="679.90" y="99.10" width="1.00" height="14.70" fill="#000" stroke="none" stroke-width="1"/>
<rect x="624.00" y="99.10" width="1.20" height="14.70" fill="#444" stroke="none" stroke-width="1"/>
<rect x="636.00" y="99.10" width="1.00" height="14.70" fill="#555" stroke="none" stroke-width="1"/>
<rect x="580.00" y="99.10" width="0.80" height="14.70" fill="#333" stroke="none" stroke-width="1"/>
<rect x="584.00" y="99.10" width="0.80" height="14.70" fill="#333" stroke="none" stroke-width="1"/>
<rect x="550.70" y="113.80" width="26.00" height="6.10" fill="#d63030" stroke="none" stroke-width="1"/>
<rect x="576.70" y="113.80" width="32.70" height="6.10" fill="#ea6448" stroke="none" stroke-width="1"/>
<rect x="609.40" y="113.80" width="14.30" height="6.10" fill="#eb9c82" stroke="none" stroke-width="1"/>
<rect x="623.70" y="113.80" width="20.40" height="6.10" fill="#fcdcd0" stroke="none" stroke-width="1"/>
<rect x="644.10" y="113.80" width="8.70" height="6.10" fill="#e8ecf8" stroke="none" stroke-width="1"/>
<rect x="652.80" y="113.80" width="11.00" height="6.10" fill="#a8c8dc" stroke="none" stroke-width="1"/>
<rect x="663.80" y="113.80" width="11.00" height="6.10" fill="#5a9ad0" stroke="none" stroke-width="1"/>
<rect x="674.80" y="113.80" width="5.70" height="6.10" fill="#3a7ebc" stroke="none" stroke-width="1"/>
<text x="550.70" y="136.40" font-size="10" text-anchor="start" font-weight="normal" font-style="normal" fill="#e4222a">Enriched <tspan font-style="italic">KI</tspan></text>
<text x="683.90" y="136.40" font-size="10" text-anchor="end" font-weight="normal" font-style="normal" fill="#3a55a8">Depleted <tspan font-style="italic">KI</tspan></text>
<text x="389.00" y="164.00" font-size="10.12" text-anchor="start" font-weight="bold" font-style="normal" fill="#000">Oxidative Phosphorylation</text>
<text x="372.30" y="207.50" font-size="10" text-anchor="middle" font-weight="normal" font-style="normal" fill="#4d4d4d" transform="rotate(-90 372.30 207.50)">Running Enrichment Score</text>
<line x1="404.85" y1="166.10" x2="404.85" y2="227.40" stroke="#e8e8e8" stroke-width="0.8"/>
<line x1="421.10" y1="166.10" x2="421.10" y2="227.40" stroke="#e8e8e8" stroke-width="0.8"/>
<line x1="437.35" y1="166.10" x2="437.35" y2="227.40" stroke="#e8e8e8" stroke-width="0.8"/>
<line x1="453.60" y1="166.10" x2="453.60" y2="227.40" stroke="#e8e8e8" stroke-width="0.8"/>
<line x1="469.85" y1="166.10" x2="469.85" y2="227.40" stroke="#e8e8e8" stroke-width="0.8"/>
<line x1="486.10" y1="166.10" x2="486.10" y2="227.40" stroke="#e8e8e8" stroke-width="0.8"/>
<line x1="502.35" y1="166.10" x2="502.35" y2="227.40" stroke="#e8e8e8" stroke-width="0.8"/>
<line x1="518.60" y1="166.10" x2="518.60" y2="227.40" stroke="#e8e8e8" stroke-width="0.8"/>
<text x="387.00" y="186.94" font-size="10" text-anchor="end" font-weight="normal" font-style="normal" fill="#4d4d4d">0.4</text>
<text x="387.00" y="207.34" font-size="10" text-anchor="end" font-weight="normal" font-style="normal" fill="#4d4d4d">0.2</text>
<text x="387.00" y="227.84" font-size="10" text-anchor="end" font-weight="normal" font-style="normal" fill="#4d4d4d">0.0</text>
<polyline points="388.60,224.40 389.00,222.00 389.25,220.31 389.50,218.64 389.75,217.35 390.00,215.73 390.25,214.97 390.50,213.20 390.90,212.03 391.30,209.70 391.70,208.24 392.10,207.01 392.50,205.20 394.00,204.20 394.50,205.20 395.00,204.01 395.50,202.94 396.00,201.10 396.28,199.32 396.56,198.41 396.83,196.63 397.11,195.50 397.39,194.08 397.67,193.15 397.94,191.81 398.22,189.57 398.50,188.60 399.30,187.03 400.10,186.10 401.10,184.82 402.10,183.60 403.10,181.84 404.10,180.10 406.10,179.10 407.60,178.10 408.85,176.45 410.10,175.00 411.27,174.11 412.43,172.82 413.60,171.00 415.10,171.50 417.10,170.00 418.60,169.30 420.10,169.50 421.47,169.58 422.83,168.44 424.20,168.50 425.53,169.40 426.87,169.52 428.20,170.00 429.87,170.38 431.53,171.93 433.20,172.50 434.53,172.62 435.87,173.50 437.20,174.30 438.37,174.75 439.54,176.18 440.71,176.55 441.89,177.35 443.06,178.23 444.23,178.71 445.40,179.98 446.57,181.13 447.74,181.29 448.91,182.29 450.09,183.08 451.26,184.02 452.43,185.08 453.60,185.50 454.76,186.09 455.93,187.47 457.09,187.92 458.26,189.14 459.42,189.67 460.59,190.83 461.75,191.53 462.91,191.90 464.08,192.80 465.24,193.23 466.41,194.41 467.57,195.20 468.74,196.21 469.90,196.80 471.13,198.08 472.36,198.98 473.59,198.95 474.82,200.17 476.05,201.24 477.28,201.86 478.52,202.35 479.75,204.10 480.98,204.43 482.21,205.86 483.44,206.20 484.67,206.67 485.90,208.00 487.08,208.80 488.26,209.40 489.43,210.01 490.61,211.29 491.79,211.62 492.97,212.63 494.14,214.05 495.32,214.77 496.50,215.20 497.72,216.29 498.94,217.74 500.16,218.73 501.38,219.50 502.60,220.90 504.65,220.64 506.70,220.90 508.75,221.24 510.80,221.70 512.85,222.29 514.90,222.30 516.13,223.67 517.37,223.99 518.60,225.00" fill="none" stroke="#0aee0a" stroke-width="1.7" stroke-linejoin="round"/>
<line x1="388.60" y1="166.10" x2="388.60" y2="227.40" stroke="#111" stroke-width="1.2"/>
<text x="391.60" y="213.84" font-size="10" text-anchor="start" font-weight="normal" font-style="normal" fill="#1a1a1a">NES 1.7</text>
<text x="391.60" y="226.14" font-size="10" text-anchor="start" font-weight="normal" font-style="normal" fill="#1a1a1a">FDR 0.01</text>
<rect x="388.60" y="229.10" width="66.40" height="13.70" fill="#000" stroke="none" stroke-width="1"/>
<rect x="455.10" y="229.10" width="1.00" height="13.70" fill="#000" stroke="none" stroke-width="1"/>
<rect x="458.10" y="229.10" width="5.10" height="13.70" fill="#000" stroke="none" stroke-width="1"/>
<rect x="464.80" y="229.10" width="1.50" height="13.70" fill="#000" stroke="none" stroke-width="1"/>
<rect x="468.90" y="229.10" width="2.00" height="13.70" fill="#000" stroke="none" stroke-width="1"/>
<rect x="474.50" y="229.10" width="4.60" height="13.70" fill="#000" stroke="none" stroke-width="1"/>
<rect x="481.10" y="229.10" width="1.00" height="13.70" fill="#000" stroke="none" stroke-width="1"/>
<rect x="483.20" y="229.10" width="1.50" height="13.70" fill="#000" stroke="none" stroke-width="1"/>
<rect x="488.80" y="229.10" width="1.20" height="13.70" fill="#000" stroke="none" stroke-width="1"/>
<rect x="491.80" y="229.10" width="5.10" height="13.70" fill="#000" stroke="none" stroke-width="1"/>
<rect x="503.10" y="229.10" width="3.50" height="13.70" fill="#000" stroke="none" stroke-width="1"/>
<rect x="509.20" y="229.10" width="3.10" height="13.70" fill="#000" stroke="none" stroke-width="1"/>
<rect x="514.80" y="229.10" width="1.00" height="13.70" fill="#000" stroke="none" stroke-width="1"/>
<rect x="392.90" y="229.10" width="1.60" height="13.70" fill="#aaa" stroke="none" stroke-width="1"/>
<rect x="400.00" y="229.10" width="0.80" height="13.70" fill="#444" stroke="none" stroke-width="1"/>
<rect x="425.00" y="229.10" width="1.30" height="13.70" fill="#999" stroke="none" stroke-width="1"/>
<rect x="430.70" y="229.10" width="0.80" height="13.70" fill="#555" stroke="none" stroke-width="1"/>
<rect x="437.80" y="229.10" width="0.90" height="13.70" fill="#bbb" stroke="none" stroke-width="1"/>
<rect x="440.50" y="229.10" width="1.50" height="13.70" fill="#eee" stroke="none" stroke-width="1"/>
<rect x="447.00" y="229.10" width="0.90" height="13.70" fill="#888" stroke="none" stroke-width="1"/>
<rect x="450.20" y="229.10" width="1.50" height="13.70" fill="#ccc" stroke="none" stroke-width="1"/>
<rect x="453.50" y="229.10" width="1.60" height="13.70" fill="#fff" stroke="none" stroke-width="1"/>
<rect x="474.50" y="229.10" width="1.80" height="13.70" fill="#666" stroke="none" stroke-width="1"/>
<rect x="388.60" y="242.80" width="3.40" height="7.10" fill="#c41e1e" stroke="none" stroke-width="1"/>
<rect x="392.00" y="242.80" width="40.50" height="7.10" fill="#d83028" stroke="none" stroke-width="1"/>
<rect x="432.50" y="242.80" width="28.70" height="7.10" fill="#e8603c" stroke="none" stroke-width="1"/>
<rect x="461.20" y="242.80" width="16.80" height="7.10" fill="#f5b098" stroke="none" stroke-width="1"/>
<rect x="478.00" y="242.80" width="10.30" height="7.10" fill="#fde4d8" stroke="none" stroke-width="1"/>
<rect x="488.30" y="242.80" width="7.70" height="7.10" fill="#e4e4f0" stroke="none" stroke-width="1"/>
<rect x="496.00" y="242.80" width="7.10" height="7.10" fill="#c8e0ec" stroke="none" stroke-width="1"/>
<rect x="503.10" y="242.80" width="6.60" height="7.10" fill="#6aa8d4" stroke="none" stroke-width="1"/>
<rect x="509.70" y="242.80" width="8.90" height="7.10" fill="#3a80c0" stroke="none" stroke-width="1"/>
<text x="385.20" y="263.60" font-size="10" text-anchor="start" font-weight="normal" font-style="normal" fill="#e4222a">Enriched <tspan font-style="italic">KI</tspan></text>
<text x="519.00" y="263.60" font-size="10" text-anchor="end" font-weight="normal" font-style="normal" fill="#3a55a8">Depleted <tspan font-style="italic">KI</tspan></text>
<text x="551.60" y="164.80" font-size="10.12" text-anchor="start" font-weight="bold" font-style="normal" fill="#000">ROS Scavenging</text>
<text x="535.30" y="208.50" font-size="10" text-anchor="middle" font-weight="normal" font-style="normal" fill="#4d4d4d" transform="rotate(-90 535.30 208.50)">Running Enrichment Score</text>
<line x1="567.93" y1="167.20" x2="567.93" y2="228.50" stroke="#e8e8e8" stroke-width="0.8"/>
<line x1="584.15" y1="167.20" x2="584.15" y2="228.50" stroke="#e8e8e8" stroke-width="0.8"/>
<line x1="600.38" y1="167.20" x2="600.38" y2="228.50" stroke="#e8e8e8" stroke-width="0.8"/>
<line x1="616.60" y1="167.20" x2="616.60" y2="228.50" stroke="#e8e8e8" stroke-width="0.8"/>
<line x1="632.83" y1="167.20" x2="632.83" y2="228.50" stroke="#e8e8e8" stroke-width="0.8"/>
<line x1="649.05" y1="167.20" x2="649.05" y2="228.50" stroke="#e8e8e8" stroke-width="0.8"/>
<line x1="665.27" y1="167.20" x2="665.27" y2="228.50" stroke="#e8e8e8" stroke-width="0.8"/>
<line x1="681.50" y1="167.20" x2="681.50" y2="228.50" stroke="#e8e8e8" stroke-width="0.8"/>
<text x="550.10" y="178.74" font-size="10" text-anchor="end" font-weight="normal" font-style="normal" fill="#4d4d4d">0.6</text>
<text x="550.10" y="195.14" font-size="10" text-anchor="end" font-weight="normal" font-style="normal" fill="#4d4d4d">0.4</text>
<text x="550.10" y="211.44" font-size="10" text-anchor="end" font-weight="normal" font-style="normal" fill="#4d4d4d">0.2</text>
<text x="550.10" y="227.84" font-size="10" text-anchor="end" font-weight="normal" font-style="normal" fill="#4d4d4d">0.0</text>
<polyline points="551.70,203.90 551.87,202.39 552.03,200.54 552.20,199.52 552.37,198.20 552.53,196.65 552.70,195.45 552.87,194.11 553.03,191.81 553.20,190.70 553.49,189.06 553.77,187.57 554.06,186.76 554.34,184.92 554.63,182.97 554.91,181.79 555.20,180.40 556.25,179.59 557.30,178.40 557.63,176.77 557.97,175.47 558.30,174.68 558.63,172.78 558.97,171.78 559.30,170.20 560.85,170.68 562.40,170.60 564.10,170.62 565.80,171.89 567.50,171.90 570.00,171.00 571.80,171.51 573.60,171.20 576.00,172.30 578.70,172.70 581.00,172.00 582.40,171.83 583.80,171.90 585.06,172.23 586.32,173.18 587.58,174.83 588.85,175.26 590.11,176.36 591.37,176.55 592.63,177.46 593.89,178.67 595.15,179.25 596.42,180.45 597.68,181.20 598.94,181.56 600.20,182.50 601.45,183.09 602.71,183.54 603.96,184.53 605.22,185.12 606.47,186.37 607.72,186.79 608.98,187.81 610.23,188.34 611.48,189.20 612.74,189.12 613.99,190.27 615.25,191.43 616.50,191.70 617.76,192.50 619.02,193.22 620.28,193.38 621.55,194.22 622.81,195.07 624.07,196.38 625.33,197.08 626.59,197.45 627.85,198.41 629.12,199.27 630.38,199.04 631.64,200.62 632.90,200.90 634.17,201.80 635.45,202.78 636.73,203.27 638.00,203.72 639.27,204.75 640.55,205.78 641.82,206.48 643.10,206.79 644.38,208.23 645.65,208.40 646.92,209.70 648.20,210.49 649.47,210.47 650.75,212.00 652.02,212.52 653.30,213.10 655.15,213.03 657.00,212.80 658.12,213.28 659.25,214.40 660.38,215.49 661.50,216.20 663.25,217.03 665.00,217.00 666.16,217.33 667.33,218.93 668.49,219.85 669.65,220.01 670.82,220.70 671.98,221.44 673.15,223.00 674.31,223.63 675.47,224.63 676.64,224.95 677.80,225.80 678.65,224.99 679.50,223.40 681.50,225.00" fill="none" stroke="#0aee0a" stroke-width="1.7" stroke-linejoin="round"/>
<line x1="551.70" y1="167.20" x2="551.70" y2="228.50" stroke="#111" stroke-width="1.2"/>
<text x="554.70" y="214.34" font-size="10" text-anchor="start" font-weight="normal" font-style="normal" fill="#1a1a1a">NES 1.9</text>
<text x="554.70" y="226.64" font-size="10" text-anchor="start" font-weight="normal" font-style="normal" fill="#1a1a1a">FDR 0.00</text>
<rect x="551.60" y="230.50" width="3.00" height="14.30" fill="#000" stroke="none" stroke-width="1"/>
<rect x="555.20" y="230.50" width="5.60" height="14.30" fill="#000" stroke="none" stroke-width="1"/>
<rect x="562.80" y="230.50" width="1.30" height="14.30" fill="#000" stroke="none" stroke-width="1"/>
<rect x="565.90" y="230.50" width="2.00" height="14.30" fill="#000" stroke="none" stroke-width="1"/>
<rect x="568.90" y="230.50" width="2.60" height="14.30" fill="#000" stroke="none" stroke-width="1"/>
<rect x="573.00" y="230.50" width="2.60" height="14.30" fill="#000" stroke="none" stroke-width="1"/>
<rect x="578.60" y="230.50" width="2.10" height="14.30" fill="#000" stroke="none" stroke-width="1"/>
<rect x="581.70" y="230.50" width="2.10" height="14.30" fill="#000" stroke="none" stroke-width="1"/>
<rect x="599.10" y="230.50" width="1.50" height="14.30" fill="#000" stroke="none" stroke-width="1"/>
<rect x="602.60" y="230.50" width="1.60" height="14.30" fill="#000" stroke="none" stroke-width="1"/>
<rect x="608.30" y="230.50" width="1.00" height="14.30" fill="#000" stroke="none" stroke-width="1"/>
<rect x="613.40" y="230.50" width="1.50" height="14.30" fill="#000" stroke="none" stroke-width="1"/>
<rect x="616.80" y="230.50" width="1.10" height="14.30" fill="#000" stroke="none" stroke-width="1"/>
<rect x="633.70" y="230.50" width="1.00" height="14.30" fill="#000" stroke="none" stroke-width="1"/>
<rect x="635.90" y="230.50" width="2.10" height="14.30" fill="#000" stroke="none" stroke-width="1"/>
<rect x="652.80" y="230.50" width="1.50" height="14.30" fill="#000" stroke="none" stroke-width="1"/>
<rect x="654.80" y="230.50" width="1.30" height="14.30" fill="#000" stroke="none" stroke-width="1"/>
<rect x="661.00" y="230.50" width="1.20" height="14.30" fill="#000" stroke="none" stroke-width="1"/>
<rect x="677.80" y="230.50" width="1.20" height="14.30" fill="#000" stroke="none" stroke-width="1"/>
<rect x="566.50" y="230.50" width="1.00" height="14.30" fill="#777" stroke="none" stroke-width="1"/>
<rect x="609.80" y="230.50" width="1.00" height="14.30" fill="#666" stroke="none" stroke-width="1"/>
<rect x="627.00" y="230.50" width="1.50" height="14.30" fill="#555" stroke="none" stroke-width="1"/>
<rect x="551.70" y="244.80" width="43.30" height="6.10" fill="#d83030" stroke="none" stroke-width="1"/>
<rect x="595.00" y="244.80" width="23.60" height="6.10" fill="#f06a48" stroke="none" stroke-width="1"/>
<rect x="618.60" y="244.80" width="30.10" height="6.10" fill="#f8b098" stroke="none" stroke-width="1"/>
<rect x="648.70" y="244.80" width="4.60" height="6.10" fill="#fde8dc" stroke="none" stroke-width="1"/>
<rect x="653.30" y="244.80" width="9.20" height="6.10" fill="#eaeef8" stroke="none" stroke-width="1"/>
<rect x="662.50" y="244.80" width="11.70" height="6.10" fill="#c0d8e8" stroke="none" stroke-width="1"/>
<rect x="674.20" y="244.80" width="3.30" height="6.10" fill="#5a9ad0" stroke="none" stroke-width="1"/>
<rect x="677.50" y="244.80" width="4.00" height="6.10" fill="#3a80c0" stroke="none" stroke-width="1"/>
<text x="550.05" y="265.70" font-size="10" text-anchor="start" font-weight="normal" font-style="normal" fill="#e4222a">Enriched <tspan font-style="italic">KI</tspan></text>
<text x="684.10" y="265.70" font-size="10" text-anchor="end" font-weight="normal" font-style="normal" fill="#3a55a8">Depleted <tspan font-style="italic">KI</tspan></text>
<text x="393.00" y="299.80" font-size="10.12" text-anchor="start" font-weight="bold" font-style="normal" fill="#000">Ferroptosis</text>
<text x="372.60" y="346.60" font-size="10" text-anchor="middle" font-weight="normal" font-style="normal" fill="#4d4d4d" transform="rotate(-90 372.60 346.60)">Running Enrichment Score</text>
<rect x="386.00" y="301.50" width="136.60" height="60.90" fill="white" stroke="#e6e6e6" stroke-width="0.8"/>
<rect x="386.00" y="362.40" width="136.60" height="19.70" fill="white" stroke="#e6e6e6" stroke-width="0.8"/>
<line x1="401.15" y1="301.50" x2="401.15" y2="362.40" stroke="#f4f4f4" stroke-width="0.7"/>
<line x1="401.15" y1="362.40" x2="401.15" y2="382.10" stroke="#f4f4f4" stroke-width="0.7"/>
<line x1="416.20" y1="301.50" x2="416.20" y2="362.40" stroke="#ececec" stroke-width="0.7"/>
<line x1="416.20" y1="362.40" x2="416.20" y2="382.10" stroke="#ececec" stroke-width="0.7"/>
<line x1="431.25" y1="301.50" x2="431.25" y2="362.40" stroke="#f4f4f4" stroke-width="0.7"/>
<line x1="431.25" y1="362.40" x2="431.25" y2="382.10" stroke="#f4f4f4" stroke-width="0.7"/>
<line x1="446.30" y1="301.50" x2="446.30" y2="362.40" stroke="#ececec" stroke-width="0.7"/>
<line x1="446.30" y1="362.40" x2="446.30" y2="382.10" stroke="#ececec" stroke-width="0.7"/>
<line x1="461.35" y1="301.50" x2="461.35" y2="362.40" stroke="#f4f4f4" stroke-width="0.7"/>
<line x1="461.35" y1="362.40" x2="461.35" y2="382.10" stroke="#f4f4f4" stroke-width="0.7"/>
<line x1="476.40" y1="301.50" x2="476.40" y2="362.40" stroke="#ececec" stroke-width="0.7"/>
<line x1="476.40" y1="362.40" x2="476.40" y2="382.10" stroke="#ececec" stroke-width="0.7"/>
<line x1="491.45" y1="301.50" x2="491.45" y2="362.40" stroke="#f4f4f4" stroke-width="0.7"/>
<line x1="491.45" y1="362.40" x2="491.45" y2="382.10" stroke="#f4f4f4" stroke-width="0.7"/>
<line x1="506.50" y1="301.50" x2="506.50" y2="362.40" stroke="#ececec" stroke-width="0.7"/>
<line x1="506.50" y1="362.40" x2="506.50" y2="382.10" stroke="#ececec" stroke-width="0.7"/>
<line x1="521.55" y1="301.50" x2="521.55" y2="362.40" stroke="#f4f4f4" stroke-width="0.7"/>
<line x1="521.55" y1="362.40" x2="521.55" y2="382.10" stroke="#f4f4f4" stroke-width="0.7"/>
<line x1="386.00" y1="303.48" x2="522.60" y2="303.48" stroke="#ebebeb" stroke-width="0.7"/>
<line x1="386.00" y1="310.22" x2="522.60" y2="310.22" stroke="#ebebeb" stroke-width="0.7"/>
<line x1="386.00" y1="316.96" x2="522.60" y2="316.96" stroke="#ebebeb" stroke-width="0.7"/>
<line x1="386.00" y1="323.70" x2="522.60" y2="323.70" stroke="#ebebeb" stroke-width="0.7"/>
<line x1="386.00" y1="330.44" x2="522.60" y2="330.44" stroke="#ebebeb" stroke-width="0.7"/>
<line x1="386.00" y1="337.18" x2="522.60" y2="337.18" stroke="#ebebeb" stroke-width="0.7"/>
<line x1="386.00" y1="343.92" x2="522.60" y2="343.92" stroke="#ebebeb" stroke-width="0.7"/>
<line x1="386.00" y1="350.66" x2="522.60" y2="350.66" stroke="#ebebeb" stroke-width="0.7"/>
<line x1="386.00" y1="357.40" x2="522.60" y2="357.40" stroke="#ebebeb" stroke-width="0.7"/>
<line x1="386.00" y1="357.60" x2="522.60" y2="357.60" stroke="#d9d9d9" stroke-width="0.8"/>
<text x="385.00" y="306.38" font-size="8.4" text-anchor="end" font-weight="normal" font-style="normal" fill="#3a3a3a">0.8</text>
<text x="385.00" y="313.12" font-size="8.4" text-anchor="end" font-weight="normal" font-style="normal" fill="#3a3a3a">0.7</text>
<text x="385.00" y="319.86" font-size="8.4" text-anchor="end" font-weight="normal" font-style="normal" fill="#3a3a3a">0.6</text>
<text x="385.00" y="326.60" font-size="8.4" text-anchor="end" font-weight="normal" font-style="normal" fill="#3a3a3a">0.5</text>
<text x="385.00" y="333.34" font-size="8.4" text-anchor="end" font-weight="normal" font-style="normal" fill="#3a3a3a">0.4</text>
<text x="385.00" y="340.08" font-size="8.4" text-anchor="end" font-weight="normal" font-style="normal" fill="#3a3a3a">0.3</text>
<text x="385.00" y="346.82" font-size="8.4" text-anchor="end" font-weight="normal" font-style="normal" fill="#3a3a3a">0.2</text>
<text x="385.00" y="353.56" font-size="8.4" text-anchor="end" font-weight="normal" font-style="normal" fill="#3a3a3a">0.1</text>
<text x="385.00" y="360.30" font-size="8.4" text-anchor="end" font-weight="normal" font-style="normal" fill="#3a3a3a">0.0</text>
<polyline points="387.00,357.40 387.09,355.58 387.17,354.30 387.26,353.02 387.34,351.21 387.43,350.26 387.51,348.42 387.60,347.00 387.64,345.26 387.69,343.90 387.73,342.70 387.77,340.99 387.81,339.99 387.86,338.13 387.90,337.09 387.94,335.60 387.99,333.76 388.03,332.41 388.07,330.69 388.11,329.55 388.16,327.77 388.20,326.60 388.29,325.41 388.38,323.70 388.47,321.86 388.56,320.76 388.65,319.07 388.74,317.76 388.83,316.08 388.92,314.11 389.01,312.49 389.10,311.30 389.85,309.48 390.60,308.20 391.13,306.68 391.67,305.44 392.20,304.10 393.70,304.17 395.20,304.60 397.00,303.80 399.30,303.60 401.30,304.60 402.64,304.88 403.98,305.83 405.32,306.51 406.66,307.26 408.00,307.70 409.27,307.96 410.53,309.21 411.80,309.44 413.07,310.04 414.33,310.92 415.60,311.30 416.91,311.62 418.22,312.46 419.53,312.97 420.84,313.61 422.15,314.49 423.45,315.06 424.76,315.93 426.07,316.66 427.38,316.97 428.69,317.69 430.00,318.40 431.33,318.83 432.67,319.72 434.00,320.52 435.33,321.00 436.67,322.02 438.00,322.50 439.31,323.10 440.62,323.70 441.92,324.20 443.23,324.89 444.54,325.59 445.85,326.26 447.15,326.70 448.46,327.29 449.77,327.93 451.08,328.94 452.38,329.21 453.69,330.22 455.00,330.70 456.26,331.22 457.52,331.87 458.79,332.48 460.05,333.15 461.31,334.23 462.57,334.91 463.84,335.42 465.10,336.22 466.36,336.74 467.62,337.41 468.89,337.53 470.15,338.74 471.41,339.44 472.68,340.12 473.94,340.24 475.20,341.10 476.60,341.26 478.00,341.87 479.40,342.20 480.65,342.98 481.89,343.85 483.14,344.25 484.38,344.86 485.63,345.27 486.87,345.88 488.12,346.69 489.36,347.43 490.61,347.88 491.85,348.99 493.10,349.50 494.50,349.54 495.90,349.55 497.30,350.00 498.59,350.70 499.88,351.50 501.18,351.69 502.47,352.58 503.76,353.54 505.05,353.85 506.35,354.76 507.64,355.36 508.93,355.68 510.22,356.34 511.52,356.88 512.81,358.03 514.10,358.50 515.70,356.40 516.80,357.40" fill="none" stroke="#00dd00" stroke-width="1.0" stroke-linejoin="round"/>
<text x="392.90" y="343.44" font-size="10" text-anchor="start" font-weight="normal" font-style="normal" fill="#1a1a1a">NES 2.1</text>
<text x="392.90" y="355.74" font-size="10" text-anchor="start" font-weight="normal" font-style="normal" fill="#1a1a1a">FDR 0.00</text>
<rect x="387.10" y="362.40" width="1.50" height="19.70" fill="#000" stroke="none" stroke-width="1"/>
<rect x="390.85" y="362.40" width="0.70" height="19.70" fill="#333" stroke="none" stroke-width="1"/>
<rect x="391.35" y="362.40" width="0.70" height="19.70" fill="#555" stroke="none" stroke-width="1"/>
<rect x="392.85" y="362.40" width="0.70" height="19.70" fill="#bbb" stroke="none" stroke-width="1"/>
<rect x="395.95" y="362.40" width="0.70" height="19.70" fill="#777" stroke="none" stroke-width="1"/>
<rect x="398.95" y="362.40" width="0.70" height="19.70" fill="#777" stroke="none" stroke-width="1"/>
<rect x="407.15" y="362.40" width="0.70" height="19.70" fill="#777" stroke="none" stroke-width="1"/>
<rect x="432.15" y="362.40" width="0.70" height="19.70" fill="#888" stroke="none" stroke-width="1"/>
<rect x="433.75" y="362.40" width="0.70" height="19.70" fill="#444" stroke="none" stroke-width="1"/>
<rect x="439.85" y="362.40" width="0.70" height="19.70" fill="#bbb" stroke="none" stroke-width="1"/>
<rect x="459.30" y="362.40" width="0.80" height="19.70" fill="#ccc" stroke="none" stroke-width="1"/>
<rect x="475.10" y="362.40" width="0.80" height="19.70" fill="#ccc" stroke="none" stroke-width="1"/>
<rect x="477.70" y="362.40" width="0.80" height="19.70" fill="#333" stroke="none" stroke-width="1"/>
<rect x="494.00" y="362.40" width="0.80" height="19.70" fill="#888" stroke="none" stroke-width="1"/>
<rect x="496.10" y="362.40" width="0.80" height="19.70" fill="#777" stroke="none" stroke-width="1"/>
<rect x="514.00" y="362.40" width="0.80" height="19.70" fill="#888" stroke="none" stroke-width="1"/>
<rect x="387.10" y="382.10" width="19.90" height="5.80" fill="#f04848" stroke="none" stroke-width="1"/>
<rect x="407.00" y="382.10" width="10.70" height="5.80" fill="#f06070" stroke="none" stroke-width="1"/>
<rect x="417.70" y="382.10" width="16.40" height="5.80" fill="#f47a7a" stroke="none" stroke-width="1"/>
<rect x="434.10" y="382.10" width="22.00" height="5.80" fill="#fcb8e0" stroke="none" stroke-width="1"/>
<rect x="456.10" y="382.10" width="18.90" height="5.80" fill="#d0d0fa" stroke="none" stroke-width="1"/>
<rect x="475.00" y="382.10" width="13.30" height="5.80" fill="#c0b8f8" stroke="none" stroke-width="1"/>
<rect x="488.30" y="382.10" width="8.20" height="5.80" fill="#8080f8" stroke="none" stroke-width="1"/>
<rect x="496.50" y="382.10" width="16.30" height="5.80" fill="#5a40e0" stroke="none" stroke-width="1"/>
<rect x="512.80" y="382.10" width="3.10" height="5.80" fill="#2000c0" stroke="none" stroke-width="1"/>
<text x="386.30" y="400.20" font-size="10" text-anchor="start" font-weight="normal" font-style="normal" fill="#e4222a">Enriched <tspan font-style="italic">KI</tspan></text>
<text x="520.40" y="400.20" font-size="10" text-anchor="end" font-weight="normal" font-style="normal" fill="#3a55a8">Depleted <tspan font-style="italic">KI</tspan></text>
<text x="551.60" y="301.10" font-size="10.12" text-anchor="start" font-weight="bold" font-style="normal" fill="#000">Unfolded Protein Response</text>
<text x="535.20" y="346.60" font-size="10" text-anchor="middle" font-weight="normal" font-style="normal" fill="#4d4d4d" transform="rotate(-90 535.20 346.60)">Running Enrichment Score</text>
<line x1="567.93" y1="303.60" x2="567.93" y2="365.50" stroke="#e8e8e8" stroke-width="0.8"/>
<line x1="584.15" y1="303.60" x2="584.15" y2="365.50" stroke="#e8e8e8" stroke-width="0.8"/>
<line x1="600.38" y1="303.60" x2="600.38" y2="365.50" stroke="#e8e8e8" stroke-width="0.8"/>
<line x1="616.60" y1="303.60" x2="616.60" y2="365.50" stroke="#e8e8e8" stroke-width="0.8"/>
<line x1="632.83" y1="303.60" x2="632.83" y2="365.50" stroke="#e8e8e8" stroke-width="0.8"/>
<line x1="649.05" y1="303.60" x2="649.05" y2="365.50" stroke="#e8e8e8" stroke-width="0.8"/>
<line x1="665.27" y1="303.60" x2="665.27" y2="365.50" stroke="#e8e8e8" stroke-width="0.8"/>
<line x1="681.50" y1="303.60" x2="681.50" y2="365.50" stroke="#e8e8e8" stroke-width="0.8"/>
<text x="550.10" y="314.34" font-size="10" text-anchor="end" font-weight="normal" font-style="normal" fill="#4d4d4d">0.6</text>
<text x="550.10" y="331.14" font-size="10" text-anchor="end" font-weight="normal" font-style="normal" fill="#4d4d4d">0.4</text>
<text x="550.10" y="348.54" font-size="10" text-anchor="end" font-weight="normal" font-style="normal" fill="#4d4d4d">0.2</text>
<text x="550.10" y="364.84" font-size="10" text-anchor="end" font-weight="normal" font-style="normal" fill="#4d4d4d">0.0</text>
<polyline points="551.70,361.40 551.79,359.91 551.88,358.07 551.98,357.07 552.07,355.76 552.16,354.24 552.25,353.05 552.34,351.72 552.43,349.44 552.52,348.18 552.62,346.71 552.71,345.92 552.80,344.00 553.02,342.62 553.24,340.66 553.45,339.47 553.67,338.26 553.89,336.33 554.11,334.92 554.33,334.01 554.55,331.99 554.76,330.88 554.98,329.47 555.20,327.70 555.50,325.83 555.80,325.21 556.10,323.74 556.40,321.75 556.70,319.93 557.00,318.61 557.30,317.50 557.63,316.45 557.97,314.53 558.30,313.29 558.63,311.12 558.97,309.69 559.30,308.30 561.40,307.70 563.40,308.24 565.40,308.30 567.25,307.61 569.10,306.90 570.60,307.77 572.10,308.16 573.60,308.30 575.30,308.77 577.00,309.50 578.27,309.98 579.53,310.32 580.80,311.30 582.30,311.01 583.80,310.90 585.17,311.44 586.53,312.73 587.90,313.20 589.27,314.26 590.63,314.83 592.00,315.40 593.37,316.35 594.73,316.17 596.10,317.24 597.47,318.31 598.83,318.58 600.20,319.10 601.45,320.02 602.71,320.29 603.96,321.23 605.22,322.19 606.47,323.61 607.72,324.41 608.98,324.90 610.23,325.96 611.48,326.93 612.74,326.81 613.99,328.50 615.25,329.02 616.50,329.70 617.76,330.88 619.02,331.43 620.28,331.94 621.55,333.03 622.81,334.12 624.07,334.88 625.33,335.26 626.59,336.76 627.85,336.99 629.12,338.34 630.38,339.19 631.64,339.24 632.90,340.40 634.23,341.56 635.55,342.05 636.88,342.68 638.20,342.96 639.52,343.97 640.85,344.94 642.17,345.97 643.50,345.80 644.82,347.33 646.15,348.18 647.47,348.28 648.80,349.20 650.12,349.66 651.45,350.36 652.77,351.88 654.10,352.48 655.42,353.44 656.75,353.72 658.07,354.92 659.40,355.30 660.77,355.57 662.13,356.17 663.50,357.28 664.87,357.74 666.23,359.17 667.60,359.40 669.30,359.62 671.00,359.59 672.70,359.60 674.25,359.48 675.80,359.40 677.22,360.57 678.65,361.38 680.08,362.49 681.50,362.90" fill="none" stroke="#0aee0a" stroke-width="1.7" stroke-linejoin="round"/>
<line x1="551.70" y1="303.60" x2="551.70" y2="365.50" stroke="#111" stroke-width="1.2"/>
<text x="554.70" y="352.34" font-size="10" text-anchor="start" font-weight="normal" font-style="normal" fill="#1a1a1a">NES 1.9</text>
<text x="554.70" y="364.64" font-size="10" text-anchor="start" font-weight="normal" font-style="normal" fill="#1a1a1a">FDR 0.00</text>
<rect x="551.60" y="366.90" width="8.70" height="13.90" fill="#000" stroke="none" stroke-width="1"/>
<rect x="560.80" y="366.90" width="3.00" height="13.90" fill="#000" stroke="none" stroke-width="1"/>
<rect x="565.90" y="366.90" width="3.60" height="13.90" fill="#000" stroke="none" stroke-width="1"/>
<rect x="572.00" y="366.90" width="1.50" height="13.90" fill="#000" stroke="none" stroke-width="1"/>
<rect x="575.10" y="366.90" width="1.00" height="13.90" fill="#000" stroke="none" stroke-width="1"/>
<rect x="578.10" y="366.90" width="5.70" height="13.90" fill="#000" stroke="none" stroke-width="1"/>
<rect x="586.30" y="366.90" width="0.50" height="13.90" fill="#000" stroke="none" stroke-width="1"/>
<rect x="589.90" y="366.90" width="3.00" height="13.90" fill="#000" stroke="none" stroke-width="1"/>
<rect x="594.50" y="366.90" width="3.50" height="13.90" fill="#000" stroke="none" stroke-width="1"/>
<rect x="599.60" y="366.90" width="2.00" height="13.90" fill="#000" stroke="none" stroke-width="1"/>
<rect x="603.20" y="366.90" width="3.00" height="13.90" fill="#000" stroke="none" stroke-width="1"/>
<rect x="607.80" y="366.90" width="1.00" height="13.90" fill="#000" stroke="none" stroke-width="1"/>
<rect x="609.80" y="366.90" width="2.00" height="13.90" fill="#000" stroke="none" stroke-width="1"/>
<rect x="613.40" y="366.90" width="3.10" height="13.90" fill="#000" stroke="none" stroke-width="1"/>
<rect x="618.10" y="366.90" width="1.00" height="13.90" fill="#000" stroke="none" stroke-width="1"/>
<rect x="622.20" y="366.90" width="1.00" height="13.90" fill="#000" stroke="none" stroke-width="1"/>
<rect x="623.70" y="366.90" width="2.50" height="13.90" fill="#000" stroke="none" stroke-width="1"/>
<rect x="626.70" y="366.90" width="2.10" height="13.90" fill="#000" stroke="none" stroke-width="1"/>
<rect x="633.40" y="366.90" width="4.60" height="13.90" fill="#000" stroke="none" stroke-width="1"/>
<rect x="643.10" y="366.90" width="1.50" height="13.90" fill="#000" stroke="none" stroke-width="1"/>
<rect x="646.20" y="366.90" width="2.50" height="13.90" fill="#000" stroke="none" stroke-width="1"/>
<rect x="652.80" y="366.90" width="1.20" height="13.90" fill="#000" stroke="none" stroke-width="1"/>
<rect x="657.10" y="366.90" width="2.80" height="13.90" fill="#000" stroke="none" stroke-width="1"/>
<rect x="663.80" y="366.90" width="1.20" height="13.90" fill="#000" stroke="none" stroke-width="1"/>
<rect x="668.10" y="366.90" width="5.10" height="13.90" fill="#000" stroke="none" stroke-width="1"/>
<rect x="674.80" y="366.90" width="1.50" height="13.90" fill="#000" stroke="none" stroke-width="1"/>
<rect x="558.00" y="366.90" width="1.50" height="13.90" fill="#888" stroke="none" stroke-width="1"/>
<rect x="579.50" y="366.90" width="1.50" height="13.90" fill="#777" stroke="none" stroke-width="1"/>
<rect x="614.50" y="366.90" width="1.50" height="13.90" fill="#666" stroke="none" stroke-width="1"/>
<rect x="627.00" y="366.90" width="1.50" height="13.90" fill="#777" stroke="none" stroke-width="1"/>
<rect x="643.30" y="366.90" width="1.30" height="13.90" fill="#888" stroke="none" stroke-width="1"/>
<rect x="551.70" y="380.80" width="4.30" height="6.60" fill="#b01818" stroke="none" stroke-width="1"/>
<rect x="556.00" y="380.80" width="28.80" height="6.60" fill="#d02a28" stroke="none" stroke-width="1"/>
<rect x="584.80" y="380.80" width="24.50" height="6.60" fill="#e86040" stroke="none" stroke-width="1"/>
<rect x="609.30" y="380.80" width="23.60" height="6.60" fill="#f0a488" stroke="none" stroke-width="1"/>
<rect x="632.90" y="380.80" width="18.90" height="6.60" fill="#fce0d4" stroke="none" stroke-width="1"/>
<rect x="651.80" y="380.80" width="13.20" height="6.60" fill="#e8ecf8" stroke="none" stroke-width="1"/>
<rect x="665.00" y="380.80" width="9.80" height="6.60" fill="#b8d4e8" stroke="none" stroke-width="1"/>
<rect x="674.80" y="380.80" width="6.70" height="6.60" fill="#4a8cc8" stroke="none" stroke-width="1"/>
<text x="550.90" y="401.30" font-size="10" text-anchor="start" font-weight="normal" font-style="normal" fill="#e4222a">Enriched <tspan font-style="italic">KI</tspan></text>
<text x="686.30" y="401.30" font-size="10" text-anchor="end" font-weight="normal" font-style="normal" fill="#3a55a8">Depleted <tspan font-style="italic">KI</tspan></text>
<text x="0.00" y="476.60" font-size="16" text-anchor="start" font-weight="bold" font-style="normal" fill="#000">c</text>
<line x1="32.00" y1="502.00" x2="32.00" y2="606.60" stroke="#222" stroke-width="1.4"/>
<line x1="31.30" y1="606.60" x2="176.20" y2="606.60" stroke="#222" stroke-width="1.4"/>
<line x1="27.80" y1="606.40" x2="32.00" y2="606.40" stroke="#222" stroke-width="1.2"/>
<text x="27.00" y="609.40" font-size="8.5" text-anchor="end" font-weight="normal" font-style="normal" fill="#262626">0</text>
<line x1="27.80" y1="582.79" x2="32.00" y2="582.79" stroke="#222" stroke-width="1.2"/>
<text x="27.00" y="585.79" font-size="8.5" text-anchor="end" font-weight="normal" font-style="normal" fill="#262626">25</text>
<line x1="27.80" y1="559.18" x2="32.00" y2="559.18" stroke="#222" stroke-width="1.2"/>
<text x="27.00" y="562.18" font-size="8.5" text-anchor="end" font-weight="normal" font-style="normal" fill="#262626">50</text>
<line x1="27.80" y1="535.57" x2="32.00" y2="535.57" stroke="#222" stroke-width="1.2"/>
<text x="27.00" y="538.57" font-size="8.5" text-anchor="end" font-weight="normal" font-style="normal" fill="#262626">75</text>
<line x1="27.80" y1="511.96" x2="32.00" y2="511.96" stroke="#222" stroke-width="1.2"/>
<text x="27.00" y="514.96" font-size="8.5" text-anchor="end" font-weight="normal" font-style="normal" fill="#262626">100</text>
<line x1="29.50" y1="594.60" x2="32.00" y2="594.60" stroke="#222" stroke-width="1.0"/>
<line x1="29.50" y1="570.99" x2="32.00" y2="570.99" stroke="#222" stroke-width="1.0"/>
<line x1="29.50" y1="547.38" x2="32.00" y2="547.38" stroke="#222" stroke-width="1.0"/>
<line x1="29.50" y1="523.76" x2="32.00" y2="523.76" stroke="#222" stroke-width="1.0"/>
<line x1="41.80" y1="606.60" x2="41.80" y2="610.80" stroke="#222" stroke-width="1.2"/>
<line x1="65.90" y1="606.60" x2="65.90" y2="610.80" stroke="#222" stroke-width="1.2"/>
<line x1="89.90" y1="606.60" x2="89.90" y2="610.80" stroke="#222" stroke-width="1.2"/>
<line x1="117.10" y1="606.60" x2="117.10" y2="610.80" stroke="#222" stroke-width="1.2"/>
<line x1="141.10" y1="606.60" x2="141.10" y2="610.80" stroke="#222" stroke-width="1.2"/>
<line x1="165.00" y1="606.60" x2="165.00" y2="610.80" stroke="#222" stroke-width="1.2"/>
<text x="46.80" y="617.20" font-size="8.6" text-anchor="end" font-weight="normal" font-style="normal" fill="#262626" transform="rotate(-45 46.80 617.20)">0nM</text>
<text x="69.20" y="618.30" font-size="8.6" text-anchor="end" font-weight="normal" font-style="normal" fill="#262626" transform="rotate(-45 69.20 618.30)">20nM</text>
<text x="91.10" y="617.20" font-size="8.6" text-anchor="end" font-weight="normal" font-style="normal" fill="#262626" transform="rotate(-45 91.10 617.20)">2000nM</text>
<text x="119.90" y="617.70" font-size="8.6" text-anchor="end" font-weight="normal" font-style="normal" fill="#262626" transform="rotate(-45 119.90 617.70)">0nM</text>
<text x="142.20" y="618.80" font-size="8.6" text-anchor="end" font-weight="normal" font-style="normal" fill="#262626" transform="rotate(-45 142.20 618.80)">20nM</text>
<text x="164.00" y="617.70" font-size="8.6" text-anchor="end" font-weight="normal" font-style="normal" fill="#262626" transform="rotate(-45 164.00 617.70)">2000nM</text>
<circle cx="36.60" cy="511.96" r="2.30" fill="#000"/>
<circle cx="38.80" cy="512.90" r="2.30" fill="#000"/>
<circle cx="37.70" cy="511.96" r="2.30" fill="#000"/>
<circle cx="45.30" cy="514.79" r="2.30" fill="#a010e0"/>
<circle cx="47.50" cy="513.85" r="2.30" fill="#a010e0"/>
<circle cx="46.40" cy="514.79" r="2.30" fill="#a010e0"/>
<circle cx="60.20" cy="522.35" r="2.30" fill="#000"/>
<circle cx="62.40" cy="523.29" r="2.30" fill="#000"/>
<circle cx="61.30" cy="522.35" r="2.30" fill="#000"/>
<circle cx="69.30" cy="527.07" r="2.30" fill="#a010e0"/>
<circle cx="71.50" cy="528.01" r="2.30" fill="#a010e0"/>
<circle cx="70.40" cy="527.07" r="2.30" fill="#a010e0"/>
<circle cx="84.40" cy="562.01" r="2.30" fill="#000"/>
<circle cx="86.60" cy="562.96" r="2.30" fill="#000"/>
<circle cx="85.50" cy="568.62" r="2.30" fill="#000"/>
<circle cx="93.30" cy="552.57" r="2.30" fill="#a010e0"/>
<circle cx="95.50" cy="553.51" r="2.30" fill="#a010e0"/>
<circle cx="94.40" cy="544.07" r="2.30" fill="#a010e0"/>
<circle cx="111.30" cy="512.90" r="2.30" fill="#000"/>
<circle cx="113.50" cy="511.96" r="2.30" fill="#000"/>
<circle cx="112.40" cy="511.96" r="2.30" fill="#000"/>
<circle cx="120.00" cy="508.18" r="2.30" fill="#a010e0"/>
<circle cx="122.20" cy="509.13" r="2.30" fill="#a010e0"/>
<circle cx="121.10" cy="508.18" r="2.30" fill="#a010e0"/>
<circle cx="135.10" cy="530.85" r="2.30" fill="#000"/>
<circle cx="137.30" cy="534.63" r="2.30" fill="#000"/>
<circle cx="136.20" cy="535.57" r="2.30" fill="#000"/>
<circle cx="144.20" cy="536.51" r="2.30" fill="#a010e0"/>
<circle cx="146.40" cy="537.46" r="2.30" fill="#a010e0"/>
<circle cx="145.30" cy="535.57" r="2.30" fill="#a010e0"/>
<circle cx="159.10" cy="590.35" r="2.30" fill="#000"/>
<circle cx="161.30" cy="590.35" r="2.30" fill="#000"/>
<circle cx="160.20" cy="591.29" r="2.30" fill="#000"/>
<circle cx="168.00" cy="577.12" r="2.30" fill="#a010e0"/>
<circle cx="170.20" cy="578.07" r="2.30" fill="#a010e0"/>
<circle cx="169.10" cy="567.68" r="2.30" fill="#a010e0"/>
<polyline points="37.90,504.70 37.90,496.50 46.70,496.50 46.70,507.60" fill="none" stroke="#111" stroke-width="1.3"/>
<polyline points="61.80,516.00 61.80,496.50 70.50,496.50 70.50,521.30" fill="none" stroke="#111" stroke-width="1.3"/>
<polyline points="85.70,556.30 85.70,496.50 94.70,496.50 94.70,539.70" fill="none" stroke="#111" stroke-width="1.3"/>
<polyline points="112.40,504.70 112.40,496.50 121.60,496.50 121.60,502.00" fill="none" stroke="#111" stroke-width="1.3"/>
<polyline points="136.50,524.80 136.50,496.50 145.60,496.50 145.60,530.00" fill="none" stroke="#111" stroke-width="1.3"/>
<polyline points="160.70,584.20 160.70,496.50 169.40,496.50 169.40,562.80" fill="none" stroke="#111" stroke-width="1.3"/>
<text x="57.00" y="485.60" font-size="10" text-anchor="start" font-weight="bold" font-style="normal" fill="#000">697<tspan font-size="6.5" font-style="italic" dy="-3.8">WT</tspan></text>
<text x="128.60" y="485.60" font-size="10" text-anchor="start" font-weight="bold" font-style="normal" fill="#000">697<tspan font-size="6.5" font-style="italic" dy="-3.8">KI</tspan></text>
<text x="42.60" y="493.00" font-size="7" text-anchor="middle" font-weight="normal" font-style="normal" fill="#333">ns</text>
<text x="66.50" y="493.00" font-size="7" text-anchor="middle" font-weight="normal" font-style="normal" fill="#333">ns</text>
<text x="117.30" y="493.00" font-size="7" text-anchor="middle" font-weight="normal" font-style="normal" fill="#333">ns</text>
<text x="141.40" y="493.00" font-size="7" text-anchor="middle" font-weight="normal" font-style="normal" fill="#333">ns</text>
<path d="M81.47,488.00L81.47,493.00M79.31,489.25L83.64,491.75M83.64,489.25L79.31,491.75" stroke="#111" stroke-width="1.25" fill="none"/>
<path d="M87.82,488.00L87.82,493.00M85.66,489.25L89.99,491.75M89.99,489.25L85.66,491.75" stroke="#111" stroke-width="1.25" fill="none"/>
<path d="M94.17,488.00L94.17,493.00M92.01,489.25L96.34,491.75M96.34,489.25L92.01,491.75" stroke="#111" stroke-width="1.25" fill="none"/>
<path d="M100.52,488.00L100.52,493.00M98.36,489.25L102.69,491.75M102.69,489.25L98.36,491.75" stroke="#111" stroke-width="1.25" fill="none"/>
<path d="M155.88,488.00L155.88,493.00M153.71,489.25L158.04,491.75M158.04,489.25L153.71,491.75" stroke="#111" stroke-width="1.25" fill="none"/>
<path d="M162.22,488.00L162.22,493.00M160.06,489.25L164.39,491.75M164.39,489.25L160.06,491.75" stroke="#111" stroke-width="1.25" fill="none"/>
<path d="M168.57,488.00L168.57,493.00M166.41,489.25L170.74,491.75M170.74,489.25L166.41,491.75" stroke="#111" stroke-width="1.25" fill="none"/>
<path d="M174.93,488.00L174.93,493.00M172.76,489.25L177.09,491.75M177.09,489.25L172.76,491.75" stroke="#111" stroke-width="1.25" fill="none"/>
<circle cx="179.40" cy="511.70" r="2.00" fill="#000"/>
<text x="183.30" y="514.70" font-size="8.5" text-anchor="start" font-weight="normal" font-style="normal" fill="#262626">DMSO</text>
<circle cx="179.40" cy="524.40" r="2.00" fill="#a010e0"/>
<text x="183.30" y="527.40" font-size="8.5" text-anchor="start" font-weight="normal" font-style="normal" fill="#262626">Z-VAD</text>
<text x="10.60" y="557.40" font-size="10.3" text-anchor="middle" font-weight="normal" font-style="normal" fill="#262626" transform="rotate(-90 10.60 557.40)">Cell Viability (%)</text>
<text x="94.80" y="655.90" font-size="10" text-anchor="middle" font-weight="normal" font-style="normal" fill="#262626">Venetoclax Dose</text>
<text x="214.50" y="478.90" font-size="16" text-anchor="start" font-weight="bold" font-style="normal" fill="#000">d</text>
<line x1="248.40" y1="504.20" x2="248.40" y2="605.90" stroke="#222" stroke-width="1.4"/>
<line x1="247.70" y1="605.90" x2="389.10" y2="605.90" stroke="#222" stroke-width="1.4"/>
<line x1="244.20" y1="605.90" x2="248.40" y2="605.90" stroke="#222" stroke-width="1.2"/>
<text x="243.40" y="608.90" font-size="8.5" text-anchor="end" font-weight="normal" font-style="normal" fill="#262626">0</text>
<line x1="244.20" y1="582.56" x2="248.40" y2="582.56" stroke="#222" stroke-width="1.2"/>
<text x="243.40" y="585.56" font-size="8.5" text-anchor="end" font-weight="normal" font-style="normal" fill="#262626">25</text>
<line x1="244.20" y1="559.22" x2="248.40" y2="559.22" stroke="#222" stroke-width="1.2"/>
<text x="243.40" y="562.22" font-size="8.5" text-anchor="end" font-weight="normal" font-style="normal" fill="#262626">50</text>
<line x1="244.20" y1="535.88" x2="248.40" y2="535.88" stroke="#222" stroke-width="1.2"/>
<text x="243.40" y="538.88" font-size="8.5" text-anchor="end" font-weight="normal" font-style="normal" fill="#262626">75</text>
<line x1="244.20" y1="512.54" x2="248.40" y2="512.54" stroke="#222" stroke-width="1.2"/>
<text x="243.40" y="515.54" font-size="8.5" text-anchor="end" font-weight="normal" font-style="normal" fill="#262626">100</text>
<line x1="245.90" y1="594.23" x2="248.40" y2="594.23" stroke="#222" stroke-width="1.0"/>
<line x1="245.90" y1="570.89" x2="248.40" y2="570.89" stroke="#222" stroke-width="1.0"/>
<line x1="245.90" y1="547.55" x2="248.40" y2="547.55" stroke="#222" stroke-width="1.0"/>
<line x1="245.90" y1="524.21" x2="248.40" y2="524.21" stroke="#222" stroke-width="1.0"/>
<line x1="258.40" y1="605.90" x2="258.40" y2="610.10" stroke="#222" stroke-width="1.2"/>
<line x1="282.10" y1="605.90" x2="282.10" y2="610.10" stroke="#222" stroke-width="1.2"/>
<line x1="305.60" y1="605.90" x2="305.60" y2="610.10" stroke="#222" stroke-width="1.2"/>
<line x1="331.60" y1="605.90" x2="331.60" y2="610.10" stroke="#222" stroke-width="1.2"/>
<line x1="355.10" y1="605.90" x2="355.10" y2="610.10" stroke="#222" stroke-width="1.2"/>
<line x1="378.70" y1="605.90" x2="378.70" y2="610.10" stroke="#222" stroke-width="1.2"/>
<text x="262.60" y="618.00" font-size="8.6" text-anchor="end" font-weight="normal" font-style="normal" fill="#262626" transform="rotate(-45 262.60 618.00)">0nM</text>
<text x="284.60" y="619.10" font-size="8.6" text-anchor="end" font-weight="normal" font-style="normal" fill="#262626" transform="rotate(-45 284.60 619.10)">20nM</text>
<text x="306.00" y="618.00" font-size="8.6" text-anchor="end" font-weight="normal" font-style="normal" fill="#262626" transform="rotate(-45 306.00 618.00)">2000nM</text>
<text x="334.40" y="617.00" font-size="8.6" text-anchor="end" font-weight="normal" font-style="normal" fill="#262626" transform="rotate(-45 334.40 617.00)">0nM</text>
<text x="356.20" y="618.10" font-size="8.6" text-anchor="end" font-weight="normal" font-style="normal" fill="#262626" transform="rotate(-45 356.20 618.10)">20nM</text>
<text x="377.70" y="617.00" font-size="8.6" text-anchor="end" font-weight="normal" font-style="normal" fill="#262626" transform="rotate(-45 377.70 617.00)">2000nM</text>
<circle cx="252.70" cy="516.27" r="2.30" fill="#000"/>
<circle cx="254.90" cy="515.34" r="2.30" fill="#000"/>
<circle cx="253.80" cy="517.21" r="2.30" fill="#000"/>
<circle cx="261.10" cy="516.27" r="2.30" fill="#a010e0"/>
<circle cx="263.30" cy="517.21" r="2.30" fill="#a010e0"/>
<circle cx="262.20" cy="520.94" r="2.30" fill="#a010e0"/>
<circle cx="276.00" cy="520.94" r="2.30" fill="#000"/>
<circle cx="278.20" cy="521.88" r="2.30" fill="#000"/>
<circle cx="277.10" cy="527.48" r="2.30" fill="#000"/>
<circle cx="285.10" cy="519.08" r="2.30" fill="#a010e0"/>
<circle cx="287.30" cy="520.94" r="2.30" fill="#a010e0"/>
<circle cx="286.20" cy="521.88" r="2.30" fill="#a010e0"/>
<circle cx="299.60" cy="540.55" r="2.30" fill="#000"/>
<circle cx="301.80" cy="542.42" r="2.30" fill="#000"/>
<circle cx="300.70" cy="549.88" r="2.30" fill="#000"/>
<circle cx="308.70" cy="545.22" r="2.30" fill="#a010e0"/>
<circle cx="310.90" cy="546.15" r="2.30" fill="#a010e0"/>
<circle cx="309.80" cy="545.22" r="2.30" fill="#a010e0"/>
<circle cx="325.90" cy="519.08" r="2.30" fill="#000"/>
<circle cx="328.10" cy="520.01" r="2.30" fill="#000"/>
<circle cx="327.00" cy="519.08" r="2.30" fill="#000"/>
<circle cx="335.00" cy="521.88" r="2.30" fill="#a010e0"/>
<circle cx="337.20" cy="521.88" r="2.30" fill="#a010e0"/>
<circle cx="336.10" cy="521.88" r="2.30" fill="#a010e0"/>
<circle cx="349.20" cy="537.75" r="2.30" fill="#000"/>
<circle cx="351.40" cy="541.48" r="2.30" fill="#000"/>
<circle cx="350.30" cy="545.22" r="2.30" fill="#000"/>
<circle cx="358.30" cy="530.28" r="2.30" fill="#a010e0"/>
<circle cx="360.50" cy="528.41" r="2.30" fill="#a010e0"/>
<circle cx="359.40" cy="531.21" r="2.30" fill="#a010e0"/>
<circle cx="372.80" cy="579.76" r="2.30" fill="#000"/>
<circle cx="375.00" cy="585.36" r="2.30" fill="#000"/>
<circle cx="373.90" cy="586.29" r="2.30" fill="#000"/>
<circle cx="381.60" cy="566.69" r="2.30" fill="#a010e0"/>
<circle cx="383.80" cy="570.42" r="2.30" fill="#a010e0"/>
<circle cx="382.70" cy="570.42" r="2.30" fill="#a010e0"/>
<polyline points="253.80,509.40 253.80,504.70 262.50,504.70 262.50,512.90" fill="none" stroke="#111" stroke-width="1.3"/>
<polyline points="277.10,516.40 277.10,504.70 286.20,504.70 286.20,513.80" fill="none" stroke="#111" stroke-width="1.3"/>
<polyline points="300.70,535.70 300.70,504.70 309.50,504.70 309.50,540.90" fill="none" stroke="#111" stroke-width="1.3"/>
<polyline points="326.70,513.80 326.70,504.70 336.10,504.70 336.10,516.40" fill="none" stroke="#111" stroke-width="1.3"/>
<polyline points="350.30,532.20 350.30,504.70 359.40,504.70 359.40,523.40" fill="none" stroke="#111" stroke-width="1.3"/>
<polyline points="373.90,573.80 373.90,504.70 382.70,504.70 382.70,560.50" fill="none" stroke="#111" stroke-width="1.3"/>
<text x="272.20" y="485.60" font-size="10" text-anchor="start" font-weight="bold" font-style="normal" fill="#000">697<tspan font-size="6.5" font-style="italic" dy="-3.8">WT</tspan></text>
<text x="343.60" y="485.60" font-size="10" text-anchor="start" font-weight="bold" font-style="normal" fill="#000">697<tspan font-size="6.5" font-style="italic" dy="-3.8">KI</tspan></text>
<text x="259.00" y="501.20" font-size="7" text-anchor="middle" font-weight="normal" font-style="normal" fill="#333">ns</text>
<text x="282.70" y="501.20" font-size="7" text-anchor="middle" font-weight="normal" font-style="normal" fill="#333">ns</text>
<text x="306.00" y="501.20" font-size="7" text-anchor="middle" font-weight="normal" font-style="normal" fill="#333">ns</text>
<text x="332.30" y="501.20" font-size="7" text-anchor="middle" font-weight="normal" font-style="normal" fill="#333">ns</text>
<path d="M348.65,496.40L348.65,501.40M346.48,497.65L350.82,500.15M350.82,497.65L346.48,500.15" stroke="#111" stroke-width="1.25" fill="none"/>
<path d="M355.00,496.40L355.00,501.40M352.83,497.65L357.17,500.15M357.17,497.65L352.83,500.15" stroke="#111" stroke-width="1.25" fill="none"/>
<path d="M361.35,496.40L361.35,501.40M359.18,497.65L363.52,500.15M363.52,497.65L359.18,500.15" stroke="#111" stroke-width="1.25" fill="none"/>
<path d="M369.98,496.40L369.98,501.40M367.81,497.65L372.14,500.15M372.14,497.65L367.81,500.15" stroke="#111" stroke-width="1.25" fill="none"/>
<path d="M376.33,496.40L376.33,501.40M374.16,497.65L378.49,500.15M378.49,497.65L374.16,500.15" stroke="#111" stroke-width="1.25" fill="none"/>
<path d="M382.68,496.40L382.68,501.40M380.51,497.65L384.84,500.15M384.84,497.65L380.51,500.15" stroke="#111" stroke-width="1.25" fill="none"/>
<path d="M389.03,496.40L389.03,501.40M386.86,497.65L391.19,500.15M391.19,497.65L386.86,500.15" stroke="#111" stroke-width="1.25" fill="none"/>
<circle cx="397.00" cy="509.90" r="2.00" fill="#000"/>
<text x="402.70" y="512.90" font-size="8.5" text-anchor="start" font-weight="normal" font-style="normal" fill="#262626">DMSO</text>
<circle cx="397.00" cy="522.50" r="2.00" fill="#a010e0"/>
<text x="402.70" y="525.50" font-size="8.5" text-anchor="start" font-weight="normal" font-style="normal" fill="#262626">Liproxstatin</text>
<text x="226.60" y="556.60" font-size="10.3" text-anchor="middle" font-weight="normal" font-style="normal" fill="#262626" transform="rotate(-90 226.60 556.60)">Cell Viability (%)</text>
<text x="310.90" y="656.40" font-size="10" text-anchor="middle" font-weight="normal" font-style="normal" fill="#262626">Venetoclax Dose</text>
<text x="446.80" y="477.60" font-size="16" text-anchor="start" font-weight="bold" font-style="normal" fill="#000">e</text>
<line x1="497.50" y1="512.50" x2="497.50" y2="607.30" stroke="#222" stroke-width="1.4"/>
<line x1="496.80" y1="607.30" x2="637.50" y2="607.30" stroke="#222" stroke-width="1.4"/>
<line x1="493.40" y1="607.30" x2="497.50" y2="607.30" stroke="#222" stroke-width="1.2"/>
<text x="492.20" y="610.30" font-size="8.7" text-anchor="end" font-weight="normal" font-style="normal" fill="#262626">0</text>
<line x1="493.40" y1="576.15" x2="497.50" y2="576.15" stroke="#222" stroke-width="1.2"/>
<text x="492.20" y="579.15" font-size="8.7" text-anchor="end" font-weight="normal" font-style="normal" fill="#262626">100</text>
<line x1="493.40" y1="545.00" x2="497.50" y2="545.00" stroke="#222" stroke-width="1.2"/>
<text x="492.20" y="548.00" font-size="8.7" text-anchor="end" font-weight="normal" font-style="normal" fill="#262626">200</text>
<line x1="493.40" y1="513.85" x2="497.50" y2="513.85" stroke="#222" stroke-width="1.2"/>
<text x="492.20" y="516.85" font-size="8.7" text-anchor="end" font-weight="normal" font-style="normal" fill="#262626">300</text>
<line x1="518.90" y1="607.30" x2="518.90" y2="611.20" stroke="#222" stroke-width="1.2"/>
<rect x="502.30" y="577.15" width="8.60" height="30.15" fill="#808080" stroke="#111" stroke-width="1.4"/>
<circle cx="504.20" cy="577.35" r="1.50" fill="#000"/>
<circle cx="506.60" cy="577.35" r="1.50" fill="#000"/>
<circle cx="509.00" cy="577.35" r="1.50" fill="#000"/>
<line x1="506.60" y1="575.59" x2="506.60" y2="577.15" stroke="#000" stroke-width="1.4"/>
<line x1="504.80" y1="576.29" x2="508.40" y2="576.29" stroke="#000" stroke-width="1.3"/>
<rect x="515.30" y="576.77" width="8.60" height="30.53" fill="#7878ff" stroke="#1a1a50" stroke-width="1.4"/>
<circle cx="517.20" cy="576.97" r="1.50" fill="#0000ee"/>
<circle cx="519.60" cy="576.97" r="1.50" fill="#0000ee"/>
<circle cx="522.00" cy="576.97" r="1.50" fill="#0000ee"/>
<rect x="528.30" y="577.15" width="8.60" height="30.15" fill="#ffbf80" stroke="#a8a8a8" stroke-width="1.4"/>
<circle cx="530.20" cy="577.35" r="1.50" fill="#ff8010"/>
<circle cx="532.60" cy="577.35" r="1.50" fill="#ff8010"/>
<circle cx="535.00" cy="577.35" r="1.50" fill="#ff8010"/>
<line x1="567.50" y1="607.30" x2="567.50" y2="611.20" stroke="#222" stroke-width="1.2"/>
<rect x="550.90" y="572.94" width="8.60" height="34.36" fill="#808080" stroke="#111" stroke-width="1.4"/>
<circle cx="552.80" cy="573.14" r="1.50" fill="#000"/>
<circle cx="555.20" cy="573.14" r="1.50" fill="#000"/>
<circle cx="557.60" cy="573.14" r="1.50" fill="#000"/>
<line x1="555.20" y1="571.70" x2="555.20" y2="572.94" stroke="#000" stroke-width="1.4"/>
<line x1="553.40" y1="572.40" x2="557.00" y2="572.40" stroke="#000" stroke-width="1.3"/>
<rect x="563.90" y="565.34" width="8.60" height="41.96" fill="#7878ff" stroke="#1a1a50" stroke-width="1.4"/>
<circle cx="565.80" cy="565.54" r="1.50" fill="#0000ee"/>
<circle cx="568.20" cy="565.54" r="1.50" fill="#0000ee"/>
<circle cx="570.60" cy="565.54" r="1.50" fill="#0000ee"/>
<rect x="576.90" y="569.55" width="8.60" height="37.75" fill="#ffbf80" stroke="#a8a8a8" stroke-width="1.4"/>
<line x1="581.20" y1="564.56" x2="581.20" y2="573.28" stroke="#ff8010" stroke-width="1.5"/>
<line x1="579.20" y1="565.36" x2="583.20" y2="565.36" stroke="#ff8010" stroke-width="1.3"/>
<line x1="579.20" y1="572.48" x2="583.20" y2="572.48" stroke="#ff8010" stroke-width="1.3"/>
<circle cx="581.20" cy="564.56" r="1.60" fill="#ff8010"/>
<circle cx="581.20" cy="573.28" r="1.60" fill="#ff8010"/>
<circle cx="581.20" cy="569.55" r="1.60" fill="#ff8010"/>
<line x1="615.50" y1="607.30" x2="615.50" y2="611.20" stroke="#222" stroke-width="1.2"/>
<rect x="598.90" y="555.34" width="8.60" height="51.96" fill="#808080" stroke="#111" stroke-width="1.4"/>
<line x1="603.20" y1="551.92" x2="603.20" y2="558.77" stroke="#000" stroke-width="1.5"/>
<line x1="601.20" y1="552.72" x2="605.20" y2="552.72" stroke="#000" stroke-width="1.3"/>
<line x1="601.20" y1="557.97" x2="605.20" y2="557.97" stroke="#000" stroke-width="1.3"/>
<circle cx="603.20" cy="551.92" r="1.60" fill="#000"/>
<circle cx="603.20" cy="558.77" r="1.60" fill="#000"/>
<circle cx="603.20" cy="555.34" r="1.60" fill="#000"/>
<rect x="611.90" y="536.06" width="8.60" height="71.24" fill="#7878ff" stroke="#1a1a50" stroke-width="1.4"/>
<line x1="616.20" y1="530.14" x2="616.20" y2="538.55" stroke="#0000ee" stroke-width="1.5"/>
<line x1="614.20" y1="530.94" x2="618.20" y2="530.94" stroke="#0000ee" stroke-width="1.3"/>
<line x1="614.20" y1="537.75" x2="618.20" y2="537.75" stroke="#0000ee" stroke-width="1.3"/>
<circle cx="616.20" cy="530.14" r="1.60" fill="#0000ee"/>
<circle cx="616.20" cy="538.55" r="1.60" fill="#0000ee"/>
<circle cx="616.20" cy="536.06" r="1.60" fill="#0000ee"/>
<rect x="624.90" y="528.86" width="8.60" height="78.44" fill="#ffbf80" stroke="#a8a8a8" stroke-width="1.4"/>
<line x1="629.20" y1="520.77" x2="629.20" y2="534.47" stroke="#ff8010" stroke-width="1.5"/>
<line x1="627.20" y1="521.57" x2="631.20" y2="521.57" stroke="#ff8010" stroke-width="1.3"/>
<line x1="627.20" y1="533.67" x2="631.20" y2="533.67" stroke="#ff8010" stroke-width="1.3"/>
<circle cx="629.20" cy="520.77" r="1.60" fill="#ff8010"/>
<circle cx="629.20" cy="534.47" r="1.60" fill="#ff8010"/>
<circle cx="629.20" cy="528.86" r="1.60" fill="#ff8010"/>
<text x="519.60" y="618.60" font-size="8.7" text-anchor="middle" font-weight="normal" font-style="normal" fill="#262626">0nM</text>
<text x="567.90" y="618.60" font-size="8.7" text-anchor="middle" font-weight="normal" font-style="normal" fill="#262626">20nM</text>
<text x="616.30" y="618.60" font-size="8.7" text-anchor="middle" font-weight="normal" font-style="normal" fill="#262626">200nM</text>
<text x="560.80" y="632.20" font-size="10" text-anchor="middle" font-weight="normal" font-style="normal" fill="#262626">Venetoclax dose</text>
<text x="461.80" y="621.00" font-size="10" text-anchor="start" font-weight="normal" font-style="normal" fill="#262626" transform="rotate(-90 461.80 621.00)">BOPIDYC<tspan font-size="6" dy="2">11</tspan><tspan dy="-2"> FL1:FL3 Ratio</tspan></text>
<text x="474.30" y="621.00" font-size="10" text-anchor="start" font-weight="normal" font-style="normal" fill="#262626" transform="rotate(-90 474.30 621.00)">Normalized to Untreated (%)</text>
<polyline points="554.20,498.60 554.20,492.90 580.80,492.90 580.80,558.80" fill="none" stroke="#333" stroke-width="1.4"/>
<polyline points="554.20,566.20 554.20,510.30 567.50,510.30 567.50,558.40" fill="none" stroke="#333" stroke-width="1.4"/>
<polyline points="602.60,498.70 602.60,493.10 628.90,493.10 628.90,515.40" fill="none" stroke="#333" stroke-width="1.4"/>
<polyline points="602.60,545.60 602.60,510.10 615.70,510.10 615.70,524.80" fill="none" stroke="#333" stroke-width="1.4"/>
<text x="568.90" y="488.80" font-size="10" text-anchor="middle" font-weight="normal" font-style="normal" fill="#222">ns</text>
<path d="M561.80,501.90L561.80,505.50M560.24,502.80L563.36,504.60M563.36,502.80L560.24,504.60" stroke="#111" stroke-width="1.1" fill="none"/>
<path d="M609.30,485.20L609.30,488.80M607.74,486.10L610.86,487.90M610.86,486.10L607.74,487.90" stroke="#111" stroke-width="1.1" fill="none"/>
<path d="M614.80,485.20L614.80,488.80M613.24,486.10L616.36,487.90M616.36,486.10L613.24,487.90" stroke="#111" stroke-width="1.1" fill="none"/>
<path d="M620.30,485.20L620.30,488.80M618.74,486.10L621.86,487.90M621.86,486.10L618.74,487.90" stroke="#111" stroke-width="1.1" fill="none"/>
<path d="M625.80,485.20L625.80,488.80M624.24,486.10L627.36,487.90M627.36,486.10L624.24,487.90" stroke="#111" stroke-width="1.1" fill="none"/>
<path d="M602.70,501.80L602.70,505.40M601.14,502.70L604.26,504.50M604.26,502.70L601.14,504.50" stroke="#111" stroke-width="1.1" fill="none"/>
<path d="M608.20,501.80L608.20,505.40M606.64,502.70L609.76,504.50M609.76,502.70L606.64,504.50" stroke="#111" stroke-width="1.1" fill="none"/>
<path d="M613.70,501.80L613.70,505.40M612.14,502.70L615.26,504.50M615.26,502.70L612.14,504.50" stroke="#111" stroke-width="1.1" fill="none"/>
<path d="M619.20,501.80L619.20,505.40M617.64,502.70L620.76,504.50M620.76,502.70L617.64,504.50" stroke="#111" stroke-width="1.1" fill="none"/>
<circle cx="649.80" cy="515.40" r="1.60" fill="#000"/>
<text x="654.70" y="518.40" font-size="8.7" text-anchor="start" font-weight="normal" font-style="normal" fill="#262626">697<tspan font-size="5.5" font-style="italic" dx="0.6" dy="-3.0">WT</tspan></text>
<circle cx="649.80" cy="529.30" r="1.60" fill="#0000ee"/>
<text x="654.70" y="532.30" font-size="8.7" text-anchor="start" font-weight="normal" font-style="normal" fill="#262626">697<tspan font-size="5.5" font-style="italic" dx="0.6" dy="-3.0">KI</tspan></text>
<circle cx="649.80" cy="541.90" r="1.60" fill="#ff8010"/>
<text x="654.70" y="544.90" font-size="8.7" text-anchor="start" font-weight="normal" font-style="normal" fill="#262626">697<tspan font-size="5.5" font-style="italic" dx="0.6" dy="-3.0">KO</tspan></text>
</svg></body></html>
